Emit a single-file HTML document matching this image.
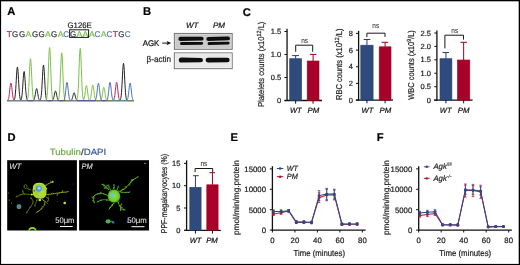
<!DOCTYPE html>
<html><head><meta charset="utf-8"><style>
html,body{margin:0;padding:0;background:#fff;}
svg{display:block;font-family:"Liberation Sans", sans-serif;will-change:transform;text-rendering:geometricPrecision;}
</style></head><body>
<svg width="520" height="265" viewBox="0 0 520 265">
<rect width="520" height="265" fill="#fff"/>
<text x="7.3" y="15.0" font-size="11.2" text-anchor="start" font-weight="bold" font-style="normal" fill="#000"  stroke="#000" stroke-width="0.2">A</text>
<text x="143.0" y="15.0" font-size="11.2" text-anchor="start" font-weight="bold" font-style="normal" fill="#000"  stroke="#000" stroke-width="0.2">B</text>
<text x="242.8" y="15.8" font-size="11.2" text-anchor="start" font-weight="bold" font-style="normal" fill="#000"  stroke="#000" stroke-width="0.2">C</text>
<text x="7.4" y="140.5" font-size="11.2" text-anchor="start" font-weight="bold" font-style="normal" fill="#000"  stroke="#000" stroke-width="0.2">D</text>
<text x="230.6" y="141.3" font-size="11.2" text-anchor="start" font-weight="bold" font-style="normal" fill="#000"  stroke="#000" stroke-width="0.2">E</text>
<text x="376.8" y="140.5" font-size="11.2" text-anchor="start" font-weight="bold" font-style="normal" fill="#000"  stroke="#000" stroke-width="0.2">F</text>
<text x="6.7" y="36.9" font-size="8.3" text-anchor="start" font-weight="normal" font-style="normal" fill="#c8294f" textLength="5.2" lengthAdjust="spacingAndGlyphs" stroke="#c8294f" stroke-width="0.2">T</text>
<text x="12.0" y="36.9" font-size="8.3" text-anchor="start" font-weight="normal" font-style="normal" fill="#333333" textLength="6.2" lengthAdjust="spacingAndGlyphs" stroke="#333333" stroke-width="0.2">G</text>
<text x="18.9" y="36.9" font-size="8.3" text-anchor="start" font-weight="normal" font-style="normal" fill="#333333" textLength="6.2" lengthAdjust="spacingAndGlyphs" stroke="#333333" stroke-width="0.2">G</text>
<text x="25.5" y="36.9" font-size="8.3" text-anchor="start" font-weight="normal" font-style="normal" fill="#72bb45" textLength="5.8" lengthAdjust="spacingAndGlyphs" stroke="#72bb45" stroke-width="0.2">A</text>
<text x="31.9" y="36.9" font-size="8.3" text-anchor="start" font-weight="normal" font-style="normal" fill="#333333" textLength="6.2" lengthAdjust="spacingAndGlyphs" stroke="#333333" stroke-width="0.2">G</text>
<text x="38.6" y="36.9" font-size="8.3" text-anchor="start" font-weight="normal" font-style="normal" fill="#333333" textLength="6.2" lengthAdjust="spacingAndGlyphs" stroke="#333333" stroke-width="0.2">G</text>
<text x="45.1" y="36.9" font-size="8.3" text-anchor="start" font-weight="normal" font-style="normal" fill="#72bb45" textLength="5.8" lengthAdjust="spacingAndGlyphs" stroke="#72bb45" stroke-width="0.2">A</text>
<text x="51.0" y="36.9" font-size="8.3" text-anchor="start" font-weight="normal" font-style="normal" fill="#333333" textLength="6.2" lengthAdjust="spacingAndGlyphs" stroke="#333333" stroke-width="0.2">G</text>
<text x="57.7" y="36.9" font-size="8.3" text-anchor="start" font-weight="normal" font-style="normal" fill="#72bb45" textLength="5.8" lengthAdjust="spacingAndGlyphs" stroke="#72bb45" stroke-width="0.2">A</text>
<text x="63.2" y="36.9" font-size="8.3" text-anchor="start" font-weight="normal" font-style="normal" fill="#5577b3" textLength="5.8" lengthAdjust="spacingAndGlyphs" stroke="#5577b3" stroke-width="0.2">C</text>
<text x="70.0" y="36.9" font-size="8.3" text-anchor="start" font-weight="normal" font-style="normal" fill="#333333" textLength="6.2" lengthAdjust="spacingAndGlyphs" stroke="#333333" stroke-width="0.2">G</text>
<text x="76.5" y="36.9" font-size="8.3" text-anchor="start" font-weight="normal" font-style="normal" fill="#72bb45" textLength="5.8" lengthAdjust="spacingAndGlyphs" stroke="#72bb45" stroke-width="0.2">A</text>
<text x="82.4" y="36.9" font-size="8.3" text-anchor="start" font-weight="normal" font-style="normal" fill="#72bb45" textLength="5.8" lengthAdjust="spacingAndGlyphs" stroke="#72bb45" stroke-width="0.2">A</text>
<text x="89.1" y="36.9" font-size="8.3" text-anchor="start" font-weight="normal" font-style="normal" fill="#72bb45" textLength="5.8" lengthAdjust="spacingAndGlyphs" stroke="#72bb45" stroke-width="0.2">A</text>
<text x="94.6" y="36.9" font-size="8.3" text-anchor="start" font-weight="normal" font-style="normal" fill="#5577b3" textLength="5.8" lengthAdjust="spacingAndGlyphs" stroke="#5577b3" stroke-width="0.2">C</text>
<text x="100.7" y="36.9" font-size="8.3" text-anchor="start" font-weight="normal" font-style="normal" fill="#72bb45" textLength="5.8" lengthAdjust="spacingAndGlyphs" stroke="#72bb45" stroke-width="0.2">A</text>
<text x="106.6" y="36.9" font-size="8.3" text-anchor="start" font-weight="normal" font-style="normal" fill="#5577b3" textLength="5.8" lengthAdjust="spacingAndGlyphs" stroke="#5577b3" stroke-width="0.2">C</text>
<text x="112.8" y="36.9" font-size="8.3" text-anchor="start" font-weight="normal" font-style="normal" fill="#c8294f" textLength="5.2" lengthAdjust="spacingAndGlyphs" stroke="#c8294f" stroke-width="0.2">T</text>
<text x="118.3" y="36.9" font-size="8.3" text-anchor="start" font-weight="normal" font-style="normal" fill="#333333" textLength="6.2" lengthAdjust="spacingAndGlyphs" stroke="#333333" stroke-width="0.2">G</text>
<text x="124.8" y="36.9" font-size="8.3" text-anchor="start" font-weight="normal" font-style="normal" fill="#5577b3" textLength="5.8" lengthAdjust="spacingAndGlyphs" stroke="#5577b3" stroke-width="0.2">C</text>
<text x="67.5" y="27.8" font-size="8.0" text-anchor="start" font-weight="normal" font-style="normal" fill="#222" textLength="24.3" lengthAdjust="spacingAndGlyphs"  stroke="#222" stroke-width="0.2">G126E</text>
<rect x="69.6" y="29.8" width="19.0" height="7.6" fill="none" stroke="#1a1a1a" stroke-width="1.0"/>
<polyline points="7.00,100.64 7.25,100.59 7.50,100.48 7.75,100.28 8.00,99.96 8.25,99.46 8.50,98.69 8.75,97.62 9.00,96.18 9.25,94.38 9.50,92.26 9.75,89.96 10.00,87.67 10.25,85.61 10.50,84.04 10.75,83.15 11.00,83.07 11.25,83.80 11.50,85.25 11.75,87.23 12.00,89.50 12.25,91.81 12.50,93.98 12.75,95.85 13.00,97.36 13.25,98.51 13.50,99.33 13.75,99.88 14.00,100.23 14.25,100.45 14.50,100.57 14.75,100.63 15.00,100.67 15.25,100.69 15.50,100.69 15.75,100.70 16.00,100.70 16.25,100.70 16.50,100.70 16.75,100.70 17.00,100.70 17.25,100.70 17.50,100.70 17.75,100.70 18.00,100.70 18.25,100.70 18.50,100.70 18.75,100.70 19.00,100.70 19.25,100.70 19.50,100.70 19.75,100.70 20.00,100.70 20.25,100.70 20.50,100.70 20.75,100.70 21.00,100.70 21.25,100.70 21.50,100.70 21.75,100.70 22.00,100.70 22.25,100.70 22.50,100.70 22.75,100.70 23.00,100.70 23.25,100.70 23.50,100.70 23.75,100.70 24.00,100.70 24.25,100.70 24.50,100.70 24.75,100.70 25.00,100.70 25.25,100.70 25.50,100.70 25.75,100.70 26.00,100.70 26.25,100.70 26.50,100.70 26.75,100.70 27.00,100.70 27.25,100.70 27.50,100.70 27.75,100.70 28.00,100.70 28.25,100.70 28.50,100.70 28.75,100.70 29.00,100.70 29.25,100.70 29.50,100.70 29.75,100.70 30.00,100.70 30.25,100.70 30.50,100.70 30.75,100.70 31.00,100.70 31.25,100.70 31.50,100.70 31.75,100.70 32.00,100.70 32.25,100.70 32.50,100.70 32.75,100.70 33.00,100.70 33.25,100.70 33.50,100.70 33.75,100.70 34.00,100.70 34.25,100.70 34.50,100.70 34.75,100.70 35.00,100.70 35.25,100.70 35.50,100.70 35.75,100.70 36.00,100.70 36.25,100.70 36.50,100.70 36.75,100.70 37.00,100.70 37.25,100.70 37.50,100.70 37.75,100.70 38.00,100.70 38.25,100.70 38.50,100.70 38.75,100.70 39.00,100.70 39.25,100.70 39.50,100.70 39.75,100.70 40.00,100.70 40.25,100.70 40.50,100.70 40.75,100.70 41.00,100.70 41.25,100.70 41.50,100.70 41.75,100.70 42.00,100.70 42.25,100.70 42.50,100.70 42.75,100.70 43.00,100.70 43.25,100.70 43.50,100.70 43.75,100.70 44.00,100.70 44.25,100.70 44.50,100.70 44.75,100.70 45.00,100.70 45.25,100.70 45.50,100.70 45.75,100.70 46.00,100.70 46.25,100.70 46.50,100.70 46.75,100.70 47.00,100.70 47.25,100.70 47.50,100.70 47.75,100.70 48.00,100.70 48.25,100.70 48.50,100.70 48.75,100.70 49.00,100.70 49.25,100.70 49.50,100.70 49.75,100.70 50.00,100.70 50.25,100.70 50.50,100.70 50.75,100.70 51.00,100.70 51.25,100.70 51.50,100.70 51.75,100.70 52.00,100.70 52.25,100.70 52.50,100.70 52.75,100.70 53.00,100.70 53.25,100.70 53.50,100.70 53.75,100.70 54.00,100.70 54.25,100.70 54.50,100.70 54.75,100.70 55.00,100.70 55.25,100.70 55.50,100.70 55.75,100.70 56.00,100.70 56.25,100.70 56.50,100.70 56.75,100.70 57.00,100.70 57.25,100.70 57.50,100.70 57.75,100.70 58.00,100.70 58.25,100.70 58.50,100.70 58.75,100.70 59.00,100.70 59.25,100.70 59.50,100.70 59.75,100.70 60.00,100.70 60.25,100.70 60.50,100.70 60.75,100.70 61.00,100.70 61.25,100.70 61.50,100.70 61.75,100.70 62.00,100.70 62.25,100.70 62.50,100.70 62.75,100.70 63.00,100.70 63.25,100.70 63.50,100.70 63.75,100.70 64.00,100.70 64.25,100.70 64.50,100.70 64.75,100.70 65.00,100.70 65.25,100.70 65.50,100.70 65.75,100.70 66.00,100.70 66.25,100.70 66.50,100.70 66.75,100.70 67.00,100.70 67.25,100.70 67.50,100.70 67.75,100.70 68.00,100.70 68.25,100.70 68.50,100.70 68.75,100.70 69.00,100.70 69.25,100.70 69.50,100.70 69.75,100.70 70.00,100.70 70.25,100.70 70.50,100.70 70.75,100.70 71.00,100.70 71.25,100.70 71.50,100.70 71.75,100.70 72.00,100.70 72.25,100.70 72.50,100.70 72.75,100.70 73.00,100.70 73.25,100.70 73.50,100.70 73.75,100.70 74.00,100.70 74.25,100.70 74.50,100.70 74.75,100.70 75.00,100.70 75.25,100.70 75.50,100.70 75.75,100.70 76.00,100.70 76.25,100.70 76.50,100.70 76.75,100.70 77.00,100.70 77.25,100.70 77.50,100.70 77.75,100.70 78.00,100.70 78.25,100.70 78.50,100.70 78.75,100.70 79.00,100.70 79.25,100.70 79.50,100.70 79.75,100.70 80.00,100.70 80.25,100.70 80.50,100.70 80.75,100.70 81.00,100.70 81.25,100.70 81.50,100.70 81.75,100.70 82.00,100.70 82.25,100.70 82.50,100.70 82.75,100.70 83.00,100.70 83.25,100.70 83.50,100.70 83.75,100.70 84.00,100.70 84.25,100.70 84.50,100.70 84.75,100.70 85.00,100.70 85.25,100.70 85.50,100.70 85.75,100.70 86.00,100.70 86.25,100.70 86.50,100.70 86.75,100.70 87.00,100.70 87.25,100.70 87.50,100.70 87.75,100.70 88.00,100.70 88.25,100.70 88.50,100.70 88.75,100.70 89.00,100.70 89.25,100.70 89.50,100.70 89.75,100.70 90.00,100.70 90.25,100.70 90.50,100.70 90.75,100.70 91.00,100.70 91.25,100.70 91.50,100.70 91.75,100.70 92.00,100.70 92.25,100.70 92.50,100.70 92.75,100.70 93.00,100.70 93.25,100.70 93.50,100.70 93.75,100.70 94.00,100.70 94.25,100.70 94.50,100.70 94.75,100.70 95.00,100.70 95.25,100.70 95.50,100.70 95.75,100.70 96.00,100.70 96.25,100.70 96.50,100.70 96.75,100.70 97.00,100.70 97.25,100.70 97.50,100.70 97.75,100.70 98.00,100.70 98.25,100.70 98.50,100.70 98.75,100.70 99.00,100.70 99.25,100.70 99.50,100.70 99.75,100.70 100.00,100.70 100.25,100.70 100.50,100.70 100.75,100.70 101.00,100.70 101.25,100.70 101.50,100.70 101.75,100.70 102.00,100.70 102.25,100.70 102.50,100.70 102.75,100.70 103.00,100.70 103.25,100.70 103.50,100.70 103.75,100.70 104.00,100.70 104.25,100.70 104.50,100.70 104.75,100.70 105.00,100.70 105.25,100.70 105.50,100.70 105.75,100.70 106.00,100.70 106.25,100.70 106.50,100.70 106.75,100.70 107.00,100.70 107.25,100.70 107.50,100.70 107.75,100.70 108.00,100.70 108.25,100.70 108.50,100.70 108.75,100.70 109.00,100.70 109.25,100.70 109.50,100.70 109.75,100.70 110.00,100.70 110.25,100.70 110.50,100.70 110.75,100.70 111.00,100.70 111.25,100.70 111.50,100.70 111.75,100.70 112.00,100.69 112.25,100.69 112.50,100.67 112.75,100.63 113.00,100.56 113.25,100.44 113.50,100.21 113.75,99.85 114.00,99.27 114.25,98.42 114.50,97.23 114.75,95.65 115.00,93.71 115.25,91.46 115.50,89.05 115.75,86.70 116.00,84.64 116.25,83.13 116.50,82.37 116.75,82.46 117.00,83.38 117.25,85.02 117.50,87.15 117.75,89.54 118.00,91.93 118.25,94.13 118.50,96.00 118.75,97.49 119.00,98.62 119.25,99.41 119.50,99.93 119.75,100.27 120.00,100.47 120.25,100.58 120.50,100.64 120.75,100.67 121.00,100.69 121.25,100.69 121.50,100.70 121.75,100.70 122.00,100.70 122.25,100.70 122.50,100.70 122.75,100.70 123.00,100.70 123.25,100.70 123.50,100.70 123.75,100.70 124.00,100.70 124.25,100.70 124.50,100.70 124.75,100.70 125.00,100.70 125.25,100.70 125.50,100.70 125.75,100.70 126.00,100.70 126.25,100.70 126.50,100.70 126.75,100.70 127.00,100.70 127.25,100.70 127.50,100.70 127.75,100.70 128.00,100.70 128.25,100.70 128.50,100.70 128.75,100.70 129.00,100.70 129.25,100.70 129.50,100.70 129.75,100.70 130.00,100.70 130.25,100.70 130.50,100.70 130.75,100.70 131.00,100.70 131.25,100.70 131.50,100.70 131.75,100.70 132.00,100.70 132.25,100.70 132.50,100.70 132.75,100.70 133.00,100.70 133.25,100.70 133.50,100.70 133.75,100.70 134.00,100.70" fill="none" stroke="#c3244f" stroke-width="1.0" stroke-linejoin="round"/>
<polyline points="7.00,100.70 7.25,100.70 7.50,100.70 7.75,100.70 8.00,100.70 8.25,100.70 8.50,100.70 8.75,100.70 9.00,100.70 9.25,100.70 9.50,100.70 9.75,100.70 10.00,100.70 10.25,100.70 10.50,100.70 10.75,100.70 11.00,100.70 11.25,100.70 11.50,100.70 11.75,100.70 12.00,100.70 12.25,100.70 12.50,100.70 12.75,100.69 13.00,100.68 13.25,100.65 13.50,100.59 13.75,100.48 14.00,100.27 14.25,99.91 14.50,99.30 14.75,98.33 15.00,96.88 15.25,94.83 15.50,92.09 15.75,88.66 16.00,84.64 16.25,80.26 16.50,75.89 16.75,71.98 17.00,68.98 17.25,67.29 17.50,67.13 17.75,68.53 18.00,71.29 18.25,75.06 18.50,79.37 18.75,83.78 19.00,87.90 19.25,91.46 19.50,94.34 19.75,96.52 20.00,98.08 20.25,99.14 20.50,99.81 20.75,100.22 21.00,99.93 21.25,99.34 21.50,98.43 21.75,97.07 22.00,95.17 22.25,92.67 22.50,89.57 22.75,85.99 23.00,82.16 23.25,78.40 23.50,75.13 23.75,72.73 24.00,71.51 24.25,71.65 24.50,73.12 24.75,75.73 25.00,79.13 25.25,82.93 25.50,86.73 25.75,90.23 26.00,93.22 26.25,95.60 26.50,97.38 26.75,98.64 27.00,99.48 27.25,100.01 27.50,100.33 27.75,100.51 28.00,100.61 28.25,100.66 28.50,100.68 28.75,100.69 29.00,100.70 29.25,100.70 29.50,100.70 29.75,100.70 30.00,100.70 30.25,100.70 30.50,100.70 30.75,100.70 31.00,100.70 31.25,100.70 31.50,100.70 31.75,100.70 32.00,100.70 32.25,100.69 32.50,100.68 32.75,100.66 33.00,100.61 33.25,100.53 33.50,100.38 33.75,100.14 34.00,99.76 34.25,99.20 34.50,98.42 34.75,97.38 35.00,96.10 35.25,94.63 35.50,93.04 35.75,91.49 36.00,90.14 36.25,89.15 36.50,88.65 36.75,88.70 37.00,89.31 37.25,90.39 37.50,91.79 37.75,93.36 38.00,94.93 38.25,96.38 38.50,97.61 38.75,98.59 39.00,99.33 39.25,99.85 39.50,100.20 39.75,100.42 40.00,100.35 40.25,100.04 40.50,99.51 40.75,98.65 41.00,97.34 41.25,95.43 41.50,92.83 41.75,89.48 42.00,85.45 42.25,80.93 42.50,76.24 42.75,71.84 43.00,68.22 43.25,65.83 43.50,65.00 43.75,65.83 44.00,68.22 44.25,71.84 44.50,76.24 44.75,80.93 45.00,85.45 45.25,89.48 45.50,92.83 45.75,95.43 46.00,97.34 46.25,98.65 46.50,99.51 46.75,100.04 47.00,100.35 47.25,100.52 47.50,100.62 47.75,100.66 48.00,100.68 48.25,100.69 48.50,100.70 48.75,100.70 49.00,100.70 49.25,100.70 49.50,100.70 49.75,100.70 50.00,100.70 50.25,100.70 50.50,100.70 50.75,100.70 51.00,100.70 51.25,100.69 51.50,100.68 51.75,100.65 52.00,100.61 52.25,100.52 52.50,100.38 52.75,100.14 53.00,99.79 53.25,99.27 53.50,98.56 53.75,97.65 54.00,96.56 54.25,95.33 54.50,94.05 54.75,92.86 55.00,91.87 55.25,91.23 55.50,91.00 55.75,91.23 56.00,91.87 56.25,92.86 56.50,94.05 56.75,95.33 57.00,96.56 57.25,97.65 57.50,98.56 57.75,99.27 58.00,99.79 58.25,100.14 58.50,100.38 58.75,100.52 59.00,100.61 59.25,100.65 59.50,100.68 59.75,100.69 60.00,100.70 60.25,100.70 60.50,100.70 60.75,100.70 61.00,100.70 61.25,100.70 61.50,100.70 61.75,100.70 62.00,100.70 62.25,100.70 62.50,100.70 62.75,100.70 63.00,100.70 63.25,100.70 63.50,100.70 63.75,100.70 64.00,100.70 64.25,100.70 64.50,100.70 64.75,100.70 65.00,100.70 65.25,100.70 65.50,100.70 65.75,100.70 66.00,100.70 66.25,100.70 66.50,100.70 66.75,100.70 67.00,100.70 67.25,100.70 67.50,100.70 67.75,100.70 68.00,100.70 68.25,100.70 68.50,100.70 68.75,100.70 69.00,100.70 69.25,100.70 69.50,100.70 69.75,100.69 70.00,100.69 70.25,100.67 70.50,100.64 70.75,100.59 71.00,100.49 71.25,100.33 71.50,100.09 71.75,99.72 72.00,99.21 72.25,98.53 72.50,97.70 72.75,96.73 73.00,95.70 73.25,94.69 73.50,93.81 73.75,93.16 74.00,92.83 74.25,92.87 74.50,93.26 74.75,93.97 75.00,94.88 75.25,95.91 75.50,96.93 75.75,97.88 76.00,98.68 76.25,99.32 76.50,99.80 76.75,100.14 77.00,100.37 77.25,100.51 77.50,100.60 77.75,100.65 78.00,100.67 78.25,100.69 78.50,100.69 78.75,100.70 79.00,100.70 79.25,100.70 79.50,100.70 79.75,100.70 80.00,100.70 80.25,100.70 80.50,100.70 80.75,100.70 81.00,100.70 81.25,100.70 81.50,100.70 81.75,100.70 82.00,100.70 82.25,100.70 82.50,100.70 82.75,100.70 83.00,100.70 83.25,100.70 83.50,100.70 83.75,100.70 84.00,100.70 84.25,100.70 84.50,100.70 84.75,100.70 85.00,100.70 85.25,100.70 85.50,100.70 85.75,100.70 86.00,100.70 86.25,100.70 86.50,100.70 86.75,100.70 87.00,100.70 87.25,100.70 87.50,100.70 87.75,100.70 88.00,100.70 88.25,100.70 88.50,100.70 88.75,100.70 89.00,100.70 89.25,100.70 89.50,100.70 89.75,100.70 90.00,100.70 90.25,100.70 90.50,100.70 90.75,100.70 91.00,100.70 91.25,100.70 91.50,100.70 91.75,100.70 92.00,100.70 92.25,100.70 92.50,100.70 92.75,100.70 93.00,100.70 93.25,100.70 93.50,100.70 93.75,100.70 94.00,100.70 94.25,100.70 94.50,100.70 94.75,100.70 95.00,100.70 95.25,100.70 95.50,100.70 95.75,100.70 96.00,100.70 96.25,100.70 96.50,100.70 96.75,100.70 97.00,100.70 97.25,100.70 97.50,100.70 97.75,100.70 98.00,100.70 98.25,100.70 98.50,100.70 98.75,100.70 99.00,100.70 99.25,100.70 99.50,100.70 99.75,100.70 100.00,100.70 100.25,100.70 100.50,100.70 100.75,100.70 101.00,100.70 101.25,100.70 101.50,100.70 101.75,100.70 102.00,100.70 102.25,100.70 102.50,100.70 102.75,100.70 103.00,100.70 103.25,100.70 103.50,100.70 103.75,100.70 104.00,100.70 104.25,100.70 104.50,100.70 104.75,100.70 105.00,100.70 105.25,100.70 105.50,100.70 105.75,100.70 106.00,100.70 106.25,100.70 106.50,100.70 106.75,100.70 107.00,100.70 107.25,100.70 107.50,100.70 107.75,100.70 108.00,100.70 108.25,100.70 108.50,100.70 108.75,100.70 109.00,100.70 109.25,100.70 109.50,100.70 109.75,100.70 110.00,100.70 110.25,100.70 110.50,100.70 110.75,100.70 111.00,100.70 111.25,100.70 111.50,100.70 111.75,100.70 112.00,100.70 112.25,100.70 112.50,100.70 112.75,100.70 113.00,100.70 113.25,100.70 113.50,100.70 113.75,100.70 114.00,100.70 114.25,100.70 114.50,100.70 114.75,100.70 115.00,100.70 115.25,100.70 115.50,100.70 115.75,100.70 116.00,100.70 116.25,100.70 116.50,100.70 116.75,100.70 117.00,100.70 117.25,100.70 117.50,100.70 117.75,100.70 118.00,100.70 118.25,100.70 118.50,100.70 118.75,100.69 119.00,100.68 119.25,100.66 119.50,100.61 119.75,100.52 120.00,100.34 120.25,100.01 120.50,99.46 120.75,98.56 121.00,97.18 121.25,95.18 121.50,92.46 121.75,88.95 122.00,84.73 122.25,79.98 122.50,75.07 122.75,70.46 123.00,66.67 123.25,64.17 123.50,63.30 123.75,64.17 124.00,66.67 124.25,70.46 124.50,75.07 124.75,79.98 125.00,84.73 125.25,88.95 125.50,92.46 125.75,95.18 126.00,97.18 126.25,98.56 126.50,99.46 126.75,100.01 127.00,100.34 127.25,100.52 127.50,100.61 127.75,100.66 128.00,100.68 128.25,100.69 128.50,100.70 128.75,100.70 129.00,100.70 129.25,100.70 129.50,100.70 129.75,100.70 130.00,100.70 130.25,100.70 130.50,100.70 130.75,100.70 131.00,100.70 131.25,100.70 131.50,100.70 131.75,100.70 132.00,100.70 132.25,100.70 132.50,100.70 132.75,100.70 133.00,100.70 133.25,100.70 133.50,100.70 133.75,100.70 134.00,100.70" fill="none" stroke="#222222" stroke-width="1.0" stroke-linejoin="round"/>
<polyline points="7.00,100.70 7.25,100.70 7.50,100.70 7.75,100.70 8.00,100.70 8.25,100.70 8.50,100.70 8.75,100.70 9.00,100.70 9.25,100.70 9.50,100.70 9.75,100.70 10.00,100.70 10.25,100.70 10.50,100.70 10.75,100.70 11.00,100.70 11.25,100.70 11.50,100.70 11.75,100.70 12.00,100.70 12.25,100.70 12.50,100.70 12.75,100.70 13.00,100.70 13.25,100.70 13.50,100.70 13.75,100.70 14.00,100.70 14.25,100.70 14.50,100.70 14.75,100.70 15.00,100.70 15.25,100.70 15.50,100.70 15.75,100.70 16.00,100.70 16.25,100.70 16.50,100.70 16.75,100.70 17.00,100.70 17.25,100.70 17.50,100.70 17.75,100.70 18.00,100.70 18.25,100.70 18.50,100.70 18.75,100.70 19.00,100.70 19.25,100.70 19.50,100.70 19.75,100.70 20.00,100.70 20.25,100.70 20.50,100.70 20.75,100.70 21.00,100.70 21.25,100.70 21.50,100.70 21.75,100.70 22.00,100.70 22.25,100.70 22.50,100.70 22.75,100.70 23.00,100.70 23.25,100.70 23.50,100.70 23.75,100.70 24.00,100.70 24.25,100.70 24.50,100.70 24.75,100.70 25.00,100.70 25.25,100.70 25.50,100.70 25.75,100.69 26.00,100.68 26.25,100.65 26.50,100.60 26.75,100.49 27.00,100.29 27.25,99.93 27.50,99.30 27.75,98.29 28.00,96.75 28.25,94.51 28.50,91.44 28.75,87.51 29.00,82.76 29.25,77.44 29.50,71.92 29.75,66.75 30.00,62.49 30.25,59.68 30.50,58.70 30.75,59.68 31.00,62.49 31.25,66.75 31.50,71.92 31.75,77.44 32.00,82.76 32.25,87.51 32.50,91.44 32.75,94.51 33.00,96.75 33.25,98.29 33.50,99.30 33.75,99.93 34.00,100.29 34.25,100.49 34.50,100.60 34.75,100.65 35.00,100.68 35.25,100.69 35.50,100.70 35.75,100.70 36.00,100.70 36.25,100.70 36.50,100.70 36.75,100.70 37.00,100.70 37.25,100.70 37.50,100.70 37.75,100.70 38.00,100.70 38.25,100.70 38.50,100.70 38.75,100.70 39.00,100.70 39.25,100.70 39.50,100.70 39.75,100.70 40.00,100.70 40.25,100.70 40.50,100.70 40.75,100.70 41.00,100.70 41.25,100.70 41.50,100.70 41.75,100.70 42.00,100.70 42.25,100.70 42.50,100.70 42.75,100.70 43.00,100.70 43.25,100.70 43.50,100.70 43.75,100.70 44.00,100.70 44.25,100.70 44.50,100.70 44.75,100.69 45.00,100.68 45.25,100.66 45.50,100.61 45.75,100.50 46.00,100.30 46.25,99.93 46.50,99.29 46.75,98.23 47.00,96.56 47.25,94.09 47.50,90.64 47.75,86.09 48.00,80.45 48.25,73.94 48.50,66.97 48.75,60.14 49.00,54.18 49.25,49.81 49.50,47.60 49.75,47.85 50.00,50.53 50.25,55.27 50.50,61.46 50.75,68.37 51.00,75.30 51.25,81.66 51.50,87.09 51.75,91.42 52.00,94.66 52.25,96.95 52.50,98.48 52.75,99.45 53.00,100.03 53.25,100.35 53.50,100.53 53.75,100.62 54.00,100.66 54.25,100.68 54.50,100.69 54.75,100.70 55.00,100.70 55.25,100.70 55.50,100.70 55.75,100.70 56.00,100.70 56.25,100.70 56.50,100.70 56.75,100.70 57.00,100.69 57.25,100.67 57.50,100.64 57.75,100.57 58.00,100.43 58.25,100.17 58.50,99.70 58.75,98.92 59.00,97.66 59.25,95.75 59.50,93.02 59.75,89.32 60.00,84.64 60.25,79.07 60.50,72.91 60.75,66.65 61.00,60.90 61.25,56.33 61.50,53.52 61.75,52.85 62.00,54.40 62.25,57.98 62.50,63.09 62.75,69.13 63.00,75.42 63.25,81.39 63.50,86.63 63.75,90.92 64.00,94.22 64.25,96.60 64.50,98.23 64.75,99.28 65.00,99.92 65.25,100.29 65.50,100.50 65.75,100.60 66.00,100.66 66.25,100.68 66.50,100.69 66.75,100.70 67.00,100.70 67.25,100.70 67.50,100.70 67.75,100.70 68.00,100.70 68.25,100.70 68.50,100.70 68.75,100.70 69.00,100.70 69.25,100.70 69.50,100.70 69.75,100.70 70.00,100.70 70.25,100.70 70.50,100.70 70.75,100.70 71.00,100.70 71.25,100.70 71.50,100.70 71.75,100.70 72.00,100.70 72.25,100.70 72.50,100.70 72.75,100.70 73.00,100.70 73.25,100.70 73.50,100.70 73.75,100.70 74.00,100.70 74.25,100.70 74.50,100.70 74.75,100.70 75.00,100.70 75.25,100.70 75.50,100.69 75.75,100.67 76.00,100.63 76.25,100.56 76.50,100.40 76.75,100.12 77.00,99.61 77.25,98.75 77.50,97.38 77.75,95.29 78.00,92.31 78.25,88.28 78.50,83.16 78.75,77.08 79.00,70.36 79.25,63.52 79.50,57.24 79.75,52.25 80.00,49.18 80.25,48.45 80.50,50.15 80.75,54.05 81.00,59.64 81.25,66.23 81.50,73.09 81.75,79.61 82.00,85.34 82.25,90.02 82.50,93.62 82.75,96.22 83.00,98.00 83.25,99.15 83.50,99.85 83.75,99.63 84.00,98.98 84.25,98.05 84.50,96.82 84.75,95.27 85.00,93.46 85.25,91.48 85.50,89.51 85.75,87.74 86.00,86.39 86.25,85.63 86.50,85.56 86.75,86.19 87.00,87.43 87.25,89.13 87.50,91.08 87.75,93.07 88.00,94.93 88.25,96.53 88.50,97.83 88.75,98.82 89.00,99.52 89.25,100.00 89.50,100.30 89.75,100.23 90.00,99.89 90.25,99.36 90.50,98.58 90.75,97.49 91.00,96.09 91.25,94.37 91.50,92.41 91.75,90.35 92.00,88.37 92.25,86.70 92.50,85.53 92.75,85.01 93.00,85.24 93.25,86.16 93.50,87.65 93.75,89.54 94.00,91.59 94.25,93.61 94.50,95.44 94.75,96.97 95.00,98.18 95.25,99.08 95.50,99.70 95.75,100.12 96.00,100.37 96.25,100.53 96.50,100.61 96.75,100.66 97.00,100.68 97.25,100.69 97.50,100.70 97.75,100.70 98.00,100.70 98.25,100.70 98.50,100.70 98.75,100.70 99.00,100.70 99.25,100.69 99.50,100.69 99.75,100.67 100.00,100.64 100.25,100.58 100.50,100.48 100.75,100.30 101.00,100.00 101.25,99.54 101.50,98.87 101.75,97.94 102.00,96.73 102.25,95.26 102.50,93.57 102.75,91.80 103.00,90.10 103.25,88.66 103.50,87.65 103.75,87.21 104.00,87.40 104.25,88.19 104.50,89.48 104.75,91.10 105.00,92.87 105.25,94.60 105.50,96.17 105.75,97.49 106.00,98.53 106.25,99.30 106.50,99.84 106.75,100.20 107.00,100.42 107.25,100.55 107.50,100.62 107.75,100.66 108.00,100.68 108.25,100.69 108.50,100.70 108.75,100.70 109.00,100.70 109.25,100.70 109.50,100.70 109.75,100.70 110.00,100.70 110.25,100.70 110.50,100.70 110.75,100.70 111.00,100.70 111.25,100.70 111.50,100.70 111.75,100.70 112.00,100.70 112.25,100.70 112.50,100.70 112.75,100.70 113.00,100.70 113.25,100.70 113.50,100.70 113.75,100.70 114.00,100.70 114.25,100.70 114.50,100.70 114.75,100.70 115.00,100.70 115.25,100.70 115.50,100.70 115.75,100.70 116.00,100.70 116.25,100.70 116.50,100.70 116.75,100.70 117.00,100.70 117.25,100.70 117.50,100.70 117.75,100.70 118.00,100.70 118.25,100.70 118.50,100.70 118.75,100.70 119.00,100.70 119.25,100.70 119.50,100.70 119.75,100.70 120.00,100.70 120.25,100.70 120.50,100.70 120.75,100.70 121.00,100.70 121.25,100.70 121.50,100.70 121.75,100.70 122.00,100.70 122.25,100.70 122.50,100.70 122.75,100.70 123.00,100.70 123.25,100.70 123.50,100.70 123.75,100.70 124.00,100.70 124.25,100.70 124.50,100.70 124.75,100.70 125.00,100.70 125.25,100.70 125.50,100.70 125.75,100.70 126.00,100.70 126.25,100.70 126.50,100.70 126.75,100.70 127.00,100.70 127.25,100.70 127.50,100.70 127.75,100.70 128.00,100.70 128.25,100.70 128.50,100.70 128.75,100.70 129.00,100.70 129.25,100.70 129.50,100.70 129.75,100.70 130.00,100.70 130.25,100.70 130.50,100.70 130.75,100.70 131.00,100.70 131.25,100.70 131.50,100.70 131.75,100.70 132.00,100.70 132.25,100.70 132.50,100.70 132.75,100.70 133.00,100.70 133.25,100.70 133.50,100.70 133.75,100.70 134.00,100.70" fill="none" stroke="#7cc04a" stroke-width="1.0" stroke-linejoin="round"/>
<polyline points="7.00,100.70 7.25,100.70 7.50,100.70 7.75,100.70 8.00,100.70 8.25,100.70 8.50,100.70 8.75,100.70 9.00,100.70 9.25,100.70 9.50,100.70 9.75,100.70 10.00,100.70 10.25,100.70 10.50,100.70 10.75,100.70 11.00,100.70 11.25,100.70 11.50,100.70 11.75,100.70 12.00,100.70 12.25,100.70 12.50,100.70 12.75,100.70 13.00,100.70 13.25,100.70 13.50,100.70 13.75,100.70 14.00,100.70 14.25,100.70 14.50,100.70 14.75,100.70 15.00,100.70 15.25,100.70 15.50,100.70 15.75,100.70 16.00,100.70 16.25,100.70 16.50,100.70 16.75,100.70 17.00,100.70 17.25,100.70 17.50,100.70 17.75,100.70 18.00,100.70 18.25,100.70 18.50,100.70 18.75,100.70 19.00,100.70 19.25,100.70 19.50,100.70 19.75,100.70 20.00,100.70 20.25,100.70 20.50,100.70 20.75,100.70 21.00,100.70 21.25,100.70 21.50,100.70 21.75,100.70 22.00,100.70 22.25,100.70 22.50,100.70 22.75,100.70 23.00,100.70 23.25,100.70 23.50,100.70 23.75,100.70 24.00,100.70 24.25,100.70 24.50,100.70 24.75,100.70 25.00,100.70 25.25,100.70 25.50,100.70 25.75,100.70 26.00,100.70 26.25,100.70 26.50,100.70 26.75,100.70 27.00,100.70 27.25,100.70 27.50,100.70 27.75,100.70 28.00,100.70 28.25,100.70 28.50,100.70 28.75,100.70 29.00,100.70 29.25,100.70 29.50,100.70 29.75,100.70 30.00,100.70 30.25,100.70 30.50,100.70 30.75,100.70 31.00,100.70 31.25,100.70 31.50,100.70 31.75,100.70 32.00,100.70 32.25,100.70 32.50,100.70 32.75,100.70 33.00,100.70 33.25,100.70 33.50,100.70 33.75,100.70 34.00,100.70 34.25,100.70 34.50,100.70 34.75,100.70 35.00,100.70 35.25,100.70 35.50,100.70 35.75,100.70 36.00,100.70 36.25,100.70 36.50,100.70 36.75,100.70 37.00,100.70 37.25,100.70 37.50,100.70 37.75,100.70 38.00,100.70 38.25,100.70 38.50,100.70 38.75,100.70 39.00,100.70 39.25,100.70 39.50,100.70 39.75,100.70 40.00,100.70 40.25,100.70 40.50,100.70 40.75,100.70 41.00,100.70 41.25,100.70 41.50,100.70 41.75,100.70 42.00,100.70 42.25,100.70 42.50,100.70 42.75,100.70 43.00,100.70 43.25,100.70 43.50,100.70 43.75,100.70 44.00,100.70 44.25,100.70 44.50,100.70 44.75,100.70 45.00,100.70 45.25,100.70 45.50,100.70 45.75,100.70 46.00,100.70 46.25,100.70 46.50,100.70 46.75,100.70 47.00,100.70 47.25,100.70 47.50,100.70 47.75,100.70 48.00,100.70 48.25,100.70 48.50,100.70 48.75,100.70 49.00,100.70 49.25,100.70 49.50,100.70 49.75,100.70 50.00,100.70 50.25,100.70 50.50,100.70 50.75,100.70 51.00,100.70 51.25,100.70 51.50,100.70 51.75,100.70 52.00,100.70 52.25,100.70 52.50,100.70 52.75,100.70 53.00,100.70 53.25,100.70 53.50,100.70 53.75,100.70 54.00,100.70 54.25,100.70 54.50,100.70 54.75,100.70 55.00,100.70 55.25,100.70 55.50,100.70 55.75,100.70 56.00,100.70 56.25,100.70 56.50,100.70 56.75,100.70 57.00,100.70 57.25,100.70 57.50,100.70 57.75,100.70 58.00,100.70 58.25,100.70 58.50,100.70 58.75,100.70 59.00,100.70 59.25,100.70 59.50,100.70 59.75,100.70 60.00,100.70 60.25,100.70 60.50,100.70 60.75,100.70 61.00,100.70 61.25,100.70 61.50,100.70 61.75,100.70 62.00,100.70 62.25,100.70 62.50,100.69 62.75,100.68 63.00,100.66 63.25,100.61 63.50,100.52 63.75,100.36 64.00,100.09 64.25,99.65 64.50,98.97 64.75,97.99 65.00,96.64 65.25,94.92 65.50,92.84 65.75,90.51 66.00,88.09 66.25,85.82 66.50,83.96 66.75,82.73 67.00,82.30 67.25,82.73 67.50,83.96 67.75,85.82 68.00,88.09 68.25,90.51 68.50,92.84 68.75,94.92 69.00,96.64 69.25,97.99 69.50,98.97 69.75,99.65 70.00,100.09 70.25,100.36 70.50,100.52 70.75,100.61 71.00,100.66 71.25,100.68 71.50,100.69 71.75,100.70 72.00,100.70 72.25,100.70 72.50,100.70 72.75,100.70 73.00,100.70 73.25,100.70 73.50,100.70 73.75,100.70 74.00,100.70 74.25,100.70 74.50,100.70 74.75,100.70 75.00,100.70 75.25,100.70 75.50,100.70 75.75,100.70 76.00,100.70 76.25,100.70 76.50,100.70 76.75,100.70 77.00,100.70 77.25,100.70 77.50,100.70 77.75,100.70 78.00,100.70 78.25,100.70 78.50,100.70 78.75,100.70 79.00,100.70 79.25,100.70 79.50,100.70 79.75,100.70 80.00,100.70 80.25,100.70 80.50,100.70 80.75,100.70 81.00,100.70 81.25,100.70 81.50,100.70 81.75,100.70 82.00,100.70 82.25,100.70 82.50,100.70 82.75,100.70 83.00,100.70 83.25,100.70 83.50,100.70 83.75,100.70 84.00,100.70 84.25,100.70 84.50,100.70 84.75,100.70 85.00,100.70 85.25,100.70 85.50,100.70 85.75,100.70 86.00,100.70 86.25,100.70 86.50,100.70 86.75,100.70 87.00,100.70 87.25,100.70 87.50,100.70 87.75,100.70 88.00,100.70 88.25,100.70 88.50,100.70 88.75,100.70 89.00,100.70 89.25,100.70 89.50,100.70 89.75,100.70 90.00,100.70 90.25,100.70 90.50,100.70 90.75,100.70 91.00,100.70 91.25,100.70 91.50,100.70 91.75,100.70 92.00,100.70 92.25,100.70 92.50,100.70 92.75,100.70 93.00,100.70 93.25,100.70 93.50,100.70 93.75,100.70 94.00,100.69 94.25,100.67 94.50,100.64 94.75,100.59 95.00,100.48 95.25,100.29 95.50,99.97 95.75,99.47 96.00,98.72 96.25,97.65 96.50,96.23 96.75,94.45 97.00,92.36 97.25,90.09 97.50,87.82 97.75,85.78 98.00,84.23 98.25,83.35 98.50,83.27 98.75,83.99 99.00,85.43 99.25,87.38 99.50,89.62 99.75,91.91 100.00,94.05 100.25,95.90 100.50,97.40 100.75,98.53 101.00,99.34 101.25,99.89 101.50,100.24 101.75,100.45 102.00,100.57 102.25,100.64 102.50,100.67 102.75,100.69 103.00,100.69 103.25,100.70 103.50,100.70 103.75,100.70 104.00,100.70 104.25,100.70 104.50,100.70 104.75,100.70 105.00,100.70 105.25,100.70 105.50,100.69 105.75,100.68 106.00,100.66 106.25,100.61 106.50,100.52 106.75,100.36 107.00,100.09 107.25,99.65 107.50,98.97 107.75,97.99 108.00,96.64 108.25,94.92 108.50,92.84 108.75,90.51 109.00,88.09 109.25,85.82 109.50,83.96 109.75,82.73 110.00,82.30 110.25,82.73 110.50,83.96 110.75,85.82 111.00,88.09 111.25,90.51 111.50,92.84 111.75,94.92 112.00,96.64 112.25,97.99 112.50,98.97 112.75,99.65 113.00,100.09 113.25,100.36 113.50,100.52 113.75,100.61 114.00,100.66 114.25,100.68 114.50,100.69 114.75,100.70 115.00,100.70 115.25,100.70 115.50,100.70 115.75,100.70 116.00,100.70 116.25,100.70 116.50,100.70 116.75,100.70 117.00,100.70 117.25,100.70 117.50,100.70 117.75,100.70 118.00,100.70 118.25,100.70 118.50,100.70 118.75,100.70 119.00,100.70 119.25,100.70 119.50,100.70 119.75,100.70 120.00,100.70 120.25,100.70 120.50,100.70 120.75,100.70 121.00,100.70 121.25,100.70 121.50,100.70 121.75,100.70 122.00,100.70 122.25,100.70 122.50,100.70 122.75,100.70 123.00,100.70 123.25,100.70 123.50,100.70 123.75,100.70 124.00,100.70 124.25,100.70 124.50,100.70 124.75,100.70 125.00,100.70 125.25,100.70 125.50,100.69 125.75,100.69 126.00,100.67 126.25,100.63 126.50,100.57 126.75,100.45 127.00,100.23 127.25,99.88 127.50,99.33 127.75,98.51 128.00,97.36 128.25,95.85 128.50,93.98 128.75,91.81 129.00,89.50 129.25,87.23 129.50,85.25 129.75,83.80 130.00,83.07 130.25,83.15 130.50,84.04 130.75,85.61 131.00,87.67 131.25,89.96 131.50,92.26 131.75,94.38 132.00,96.18 132.25,97.62 132.50,98.69 132.75,99.46 133.00,99.96 133.25,100.28 133.50,100.48 133.75,100.59 134.00,100.64" fill="none" stroke="#4d72b5" stroke-width="1.0" stroke-linejoin="round"/>
<text x="186.0" y="28.0" font-size="8.0" text-anchor="start" font-weight="normal" font-style="italic" fill="#111" textLength="12.4" lengthAdjust="spacingAndGlyphs"  stroke="#111" stroke-width="0.2">WT</text>
<text x="212.9" y="28.0" font-size="8.0" text-anchor="start" font-weight="normal" font-style="italic" fill="#111" textLength="12.1" lengthAdjust="spacingAndGlyphs"  stroke="#111" stroke-width="0.2">PM</text>
<text x="142.7" y="45.5" font-size="8.2" text-anchor="start" font-weight="normal" font-style="normal" fill="#111" textLength="16.6" lengthAdjust="spacingAndGlyphs"  stroke="#111" stroke-width="0.2">AGK</text>
<line x1="162.3" y1="43.1" x2="168.5" y2="43.1" stroke="#111" stroke-width="1.0"/>
<path d="M166.6,40.9 L171.2,43.1 L166.6,45.3 L167.6,43.1 Z" fill="#111"/>
<text x="146.6" y="62.2" font-size="8.6" text-anchor="start" font-weight="normal" font-style="normal" fill="#222" textLength="24.5" lengthAdjust="spacingAndGlyphs"  stroke="#222" stroke-width="0.2">β-actin</text>
<defs><linearGradient id="g1" x1="0" y1="0" x2="0" y2="1"><stop offset="0" stop-color="#c9c9c9"/><stop offset="1" stop-color="#bdbdbd"/></linearGradient><filter id="bl" x="-20%" y="-50%" width="140%" height="200%"><feGaussianBlur stdDeviation="0.45"/></filter><filter id="bl2" x="-50%" y="-50%" width="200%" height="200%"><feGaussianBlur stdDeviation="0.6"/></filter></defs>
<rect x="174.3" y="33.4" width="57.9" height="15.9" fill="#c9c9c9" stroke="#6a6a6a" stroke-width="0.9"/>
<rect x="175.4" y="34.5" width="55.7" height="13.7" fill="none" stroke="#d6d6d6" stroke-width="0.8"/>
<rect x="174.3" y="52.9" width="57.9" height="15.8" fill="#e8e8e8" stroke="#6a6a6a" stroke-width="0.9"/>
<rect x="175.4" y="54.0" width="55.7" height="13.6" fill="none" stroke="#f2f2f2" stroke-width="0.8"/>
<g filter="url(#bl)" fill="#0d0d0d">
<path d="M180.50,36.80 L201.70,36.80 A1.90,1.90 0 0 1 201.70,40.60 L180.50,41.00 A2.10,2.10 0 0 1 180.50,36.80 Z"/>
<path d="M208.30,37.10 L228.10,36.50 A1.90,1.90 0 0 1 228.10,40.30 L208.30,41.10 A2.00,2.00 0 0 1 208.30,37.10 Z"/>
<path d="M181.50,42.00 L201.80,41.90 A1.40,1.40 0 0 1 201.80,44.70 L181.50,45.00 A1.50,1.50 0 0 1 181.50,42.00 Z"/>
<path d="M209.10,42.10 L228.20,41.70 A1.40,1.40 0 0 1 228.20,44.50 L209.10,45.10 A1.50,1.50 0 0 1 209.10,42.10 Z"/>
<path d="M181.40,57.40 L200.80,57.90 A2.20,2.20 0 0 1 200.80,62.30 L181.40,62.60 A2.60,2.60 0 0 1 181.40,57.40 Z"/>
<path d="M208.00,57.70 L227.30,57.70 A2.30,2.30 0 0 1 227.30,62.30 L208.00,62.50 A2.40,2.40 0 0 1 208.00,57.70 Z"/>
</g>
<line x1="287.05" y1="28.8" x2="287.05" y2="101.1" stroke="#111" stroke-width="1.3"/>
<line x1="284.45" y1="31.5" x2="287.05" y2="31.5" stroke="#111" stroke-width="1.0"/>
<text x="281.2" y="34.1" font-size="7.5" text-anchor="end" font-weight="normal" font-style="normal" fill="#1a1a1a"  stroke="#1a1a1a" stroke-width="0.2">1.5</text>
<line x1="284.45" y1="54.5" x2="287.05" y2="54.5" stroke="#111" stroke-width="1.0"/>
<text x="281.2" y="57.1" font-size="7.5" text-anchor="end" font-weight="normal" font-style="normal" fill="#1a1a1a"  stroke="#1a1a1a" stroke-width="0.2">1.0</text>
<line x1="284.45" y1="77.5" x2="287.05" y2="77.5" stroke="#111" stroke-width="1.0"/>
<text x="281.2" y="80.1" font-size="7.5" text-anchor="end" font-weight="normal" font-style="normal" fill="#1a1a1a"  stroke="#1a1a1a" stroke-width="0.2">0.5</text>
<line x1="284.45" y1="100.5" x2="287.05" y2="100.5" stroke="#111" stroke-width="1.0"/>
<text x="281.2" y="103.1" font-size="7.5" text-anchor="end" font-weight="normal" font-style="normal" fill="#1a1a1a"  stroke="#1a1a1a" stroke-width="0.2">0</text>
<line x1="284.5" y1="100.5" x2="322.0" y2="100.5" stroke="#111" stroke-width="1.3"/>
<line x1="295.65" y1="55.6" x2="295.65" y2="58.7" stroke="#22407a" stroke-width="1.0"/>
<line x1="292.2" y1="55.6" x2="299.0" y2="55.6" stroke="#22407a" stroke-width="1.0"/>
<rect x="289.7" y="58.7" width="11.900000000000034" height="41.8" fill="#2f4a7d" stroke="#22407a" stroke-width="0.6"/>
<line x1="295.65" y1="100.5" x2="295.65" y2="103.7" stroke="#111" stroke-width="1.0"/>
<line x1="313.1" y1="54.4" x2="313.1" y2="61.0" stroke="#a0001f" stroke-width="1.0"/>
<line x1="310.0" y1="54.4" x2="316.4" y2="54.4" stroke="#a0001f" stroke-width="1.0"/>
<rect x="307.2" y="61.0" width="11.800000000000011" height="39.5" fill="#a8022b" stroke="#a0001f" stroke-width="0.6"/>
<line x1="313.1" y1="100.5" x2="313.1" y2="103.7" stroke="#111" stroke-width="1.0"/>
<path d="M295.7,51.8 L295.7,45.2 L312.7,45.2 L312.7,51.8" fill="none" stroke="#1a1a1a" stroke-width="1.0"/>
<text x="301.15000000000003" y="42.599999999999994" font-size="7.4" text-anchor="start" font-weight="normal" font-style="normal" fill="#2a2a2a" textLength="6.9" lengthAdjust="spacingAndGlyphs"  stroke="#2a2a2a" stroke-width="0.05">ns</text>
<text x="295.85" y="113.1" font-size="7.6" text-anchor="middle" font-weight="normal" font-style="italic" fill="#111" textLength="11.7" lengthAdjust="spacingAndGlyphs"  stroke="#111" stroke-width="0.2">WT</text>
<text x="313.45" y="113.1" font-size="7.6" text-anchor="middle" font-weight="normal" font-style="italic" fill="#111" textLength="11.7" lengthAdjust="spacingAndGlyphs"  stroke="#111" stroke-width="0.2">PM</text>
<text transform="translate(263.6,64.3) rotate(-90)" x="0" y="0" font-size="8.5" text-anchor="middle" fill="#1a1a1a" stroke="#1a1a1a" stroke-width="0.2" textLength="85.4" lengthAdjust="spacingAndGlyphs">Platelets counts (x10<tspan baseline-shift="super" font-size="6.0">12</tspan>/L)</text>
<line x1="358.6" y1="30.8" x2="358.6" y2="100.69999999999999" stroke="#111" stroke-width="1.3"/>
<line x1="356.0" y1="33.4" x2="358.6" y2="33.4" stroke="#111" stroke-width="1.0"/>
<text x="352.9" y="36.0" font-size="7.5" text-anchor="end" font-weight="normal" font-style="normal" fill="#1a1a1a"  stroke="#1a1a1a" stroke-width="0.2">8</text>
<line x1="356.0" y1="50.074999999999996" x2="358.6" y2="50.074999999999996" stroke="#111" stroke-width="1.0"/>
<text x="352.9" y="52.675" font-size="7.5" text-anchor="end" font-weight="normal" font-style="normal" fill="#1a1a1a"  stroke="#1a1a1a" stroke-width="0.2">6</text>
<line x1="356.0" y1="66.75" x2="358.6" y2="66.75" stroke="#111" stroke-width="1.0"/>
<text x="352.9" y="69.35" font-size="7.5" text-anchor="end" font-weight="normal" font-style="normal" fill="#1a1a1a"  stroke="#1a1a1a" stroke-width="0.2">4</text>
<line x1="356.0" y1="83.42499999999998" x2="358.6" y2="83.42499999999998" stroke="#111" stroke-width="1.0"/>
<text x="352.9" y="86.02499999999998" font-size="7.5" text-anchor="end" font-weight="normal" font-style="normal" fill="#1a1a1a"  stroke="#1a1a1a" stroke-width="0.2">2</text>
<line x1="356.0" y1="100.1" x2="358.6" y2="100.1" stroke="#111" stroke-width="1.0"/>
<text x="352.9" y="102.69999999999999" font-size="7.5" text-anchor="end" font-weight="normal" font-style="normal" fill="#1a1a1a"  stroke="#1a1a1a" stroke-width="0.2">0</text>
<line x1="355.8" y1="100.1" x2="393.0" y2="100.1" stroke="#111" stroke-width="1.3"/>
<line x1="366.95000000000005" y1="39.5" x2="366.95000000000005" y2="45.2" stroke="#22407a" stroke-width="1.0"/>
<line x1="363.7" y1="39.5" x2="370.3" y2="39.5" stroke="#22407a" stroke-width="1.0"/>
<rect x="360.8" y="45.2" width="12.300000000000011" height="54.89999999999999" fill="#2f4a7d" stroke="#22407a" stroke-width="0.6"/>
<line x1="366.95000000000005" y1="100.1" x2="366.95000000000005" y2="103.3" stroke="#111" stroke-width="1.0"/>
<line x1="385.1" y1="42.3" x2="385.1" y2="46.8" stroke="#a0001f" stroke-width="1.0"/>
<line x1="381.6" y1="42.3" x2="388.2" y2="42.3" stroke="#a0001f" stroke-width="1.0"/>
<rect x="379.2" y="46.8" width="11.800000000000011" height="53.3" fill="#a8022b" stroke="#a0001f" stroke-width="0.6"/>
<line x1="385.1" y1="100.1" x2="385.1" y2="103.3" stroke="#111" stroke-width="1.0"/>
<path d="M366.9,37.0 L366.9,33.2 L385.0,33.2 L385.0,37.0" fill="none" stroke="#1a1a1a" stroke-width="1.0"/>
<text x="372.35" y="28.3" font-size="7.4" text-anchor="start" font-weight="normal" font-style="normal" fill="#2a2a2a" textLength="6.9" lengthAdjust="spacingAndGlyphs"  stroke="#2a2a2a" stroke-width="0.05">ns</text>
<text x="367.4" y="113.4" font-size="7.6" text-anchor="middle" font-weight="normal" font-style="italic" fill="#111" textLength="11.7" lengthAdjust="spacingAndGlyphs"  stroke="#111" stroke-width="0.2">WT</text>
<text x="385.3" y="113.4" font-size="7.6" text-anchor="middle" font-weight="normal" font-style="italic" fill="#111" textLength="11.7" lengthAdjust="spacingAndGlyphs"  stroke="#111" stroke-width="0.2">PM</text>
<text transform="translate(341.6,64.25) rotate(-90)" x="0" y="0" font-size="8.5" text-anchor="middle" fill="#1a1a1a" stroke="#1a1a1a" stroke-width="0.2" textLength="71.5" lengthAdjust="spacingAndGlyphs">RBC counts (x10<tspan baseline-shift="super" font-size="6.0">12</tspan>/L)</text>
<line x1="436.9" y1="30.5" x2="436.9" y2="100.69999999999999" stroke="#111" stroke-width="1.3"/>
<line x1="434.29999999999995" y1="33.0" x2="436.9" y2="33.0" stroke="#111" stroke-width="1.0"/>
<text x="431.0" y="35.6" font-size="7.5" text-anchor="end" font-weight="normal" font-style="normal" fill="#1a1a1a"  stroke="#1a1a1a" stroke-width="0.2">2.5</text>
<line x1="434.29999999999995" y1="46.42" x2="436.9" y2="46.42" stroke="#111" stroke-width="1.0"/>
<text x="431.0" y="49.02" font-size="7.5" text-anchor="end" font-weight="normal" font-style="normal" fill="#1a1a1a"  stroke="#1a1a1a" stroke-width="0.2">2.0</text>
<line x1="434.29999999999995" y1="59.839999999999996" x2="436.9" y2="59.839999999999996" stroke="#111" stroke-width="1.0"/>
<text x="431.0" y="62.44" font-size="7.5" text-anchor="end" font-weight="normal" font-style="normal" fill="#1a1a1a"  stroke="#1a1a1a" stroke-width="0.2">1.5</text>
<line x1="434.29999999999995" y1="73.25999999999999" x2="436.9" y2="73.25999999999999" stroke="#111" stroke-width="1.0"/>
<text x="431.0" y="75.85999999999999" font-size="7.5" text-anchor="end" font-weight="normal" font-style="normal" fill="#1a1a1a"  stroke="#1a1a1a" stroke-width="0.2">1.0</text>
<line x1="434.29999999999995" y1="86.67999999999999" x2="436.9" y2="86.67999999999999" stroke="#111" stroke-width="1.0"/>
<text x="431.0" y="89.27999999999999" font-size="7.5" text-anchor="end" font-weight="normal" font-style="normal" fill="#1a1a1a"  stroke="#1a1a1a" stroke-width="0.2">0.5</text>
<line x1="434.29999999999995" y1="100.1" x2="436.9" y2="100.1" stroke="#111" stroke-width="1.0"/>
<text x="431.0" y="102.69999999999999" font-size="7.5" text-anchor="end" font-weight="normal" font-style="normal" fill="#1a1a1a"  stroke="#1a1a1a" stroke-width="0.2">0</text>
<line x1="434.0" y1="100.1" x2="472.6" y2="100.1" stroke="#111" stroke-width="1.3"/>
<line x1="445.95" y1="52.5" x2="445.95" y2="58.7" stroke="#22407a" stroke-width="1.0"/>
<line x1="442.5" y1="52.5" x2="449.0" y2="52.5" stroke="#22407a" stroke-width="1.0"/>
<rect x="440.0" y="58.7" width="11.899999999999977" height="41.39999999999999" fill="#2f4a7d" stroke="#22407a" stroke-width="0.6"/>
<line x1="445.95" y1="100.1" x2="445.95" y2="103.3" stroke="#111" stroke-width="1.0"/>
<line x1="463.65" y1="42.3" x2="463.65" y2="60.0" stroke="#a0001f" stroke-width="1.0"/>
<line x1="460.4" y1="42.3" x2="467.0" y2="42.3" stroke="#a0001f" stroke-width="1.0"/>
<rect x="457.5" y="60.0" width="12.300000000000011" height="40.099999999999994" fill="#a8022b" stroke="#a0001f" stroke-width="0.6"/>
<line x1="463.65" y1="100.1" x2="463.65" y2="103.3" stroke="#111" stroke-width="1.0"/>
<path d="M444.9,48.4 L444.9,35.2 L463.5,35.2 L463.5,39.6" fill="none" stroke="#1a1a1a" stroke-width="1.0"/>
<text x="451.25" y="32.599999999999994" font-size="7.4" text-anchor="start" font-weight="normal" font-style="normal" fill="#2a2a2a" textLength="6.9" lengthAdjust="spacingAndGlyphs"  stroke="#2a2a2a" stroke-width="0.05">ns</text>
<text x="445.7" y="113.4" font-size="7.6" text-anchor="middle" font-weight="normal" font-style="italic" fill="#111" textLength="11.7" lengthAdjust="spacingAndGlyphs"  stroke="#111" stroke-width="0.2">WT</text>
<text x="463.6" y="113.4" font-size="7.6" text-anchor="middle" font-weight="normal" font-style="italic" fill="#111" textLength="11.7" lengthAdjust="spacingAndGlyphs"  stroke="#111" stroke-width="0.2">PM</text>
<text transform="translate(413.8,64.95) rotate(-90)" x="0" y="0" font-size="8.5" text-anchor="middle" fill="#1a1a1a" stroke="#1a1a1a" stroke-width="0.2" textLength="69.5" lengthAdjust="spacingAndGlyphs">WBC counts (x10<tspan baseline-shift="super" font-size="6.0">9</tspan>/L)</text>
<line x1="186.6" y1="160.4" x2="186.6" y2="230.9" stroke="#111" stroke-width="1.3"/>
<line x1="184.0" y1="163.4" x2="186.6" y2="163.4" stroke="#111" stroke-width="1.0"/>
<text x="180.4" y="166.0" font-size="7.5" text-anchor="end" font-weight="normal" font-style="normal" fill="#1a1a1a"  stroke="#1a1a1a" stroke-width="0.2">15</text>
<line x1="184.0" y1="185.70000000000002" x2="186.6" y2="185.70000000000002" stroke="#111" stroke-width="1.0"/>
<text x="180.4" y="188.3" font-size="7.5" text-anchor="end" font-weight="normal" font-style="normal" fill="#1a1a1a"  stroke="#1a1a1a" stroke-width="0.2">10</text>
<line x1="184.0" y1="208.0" x2="186.6" y2="208.0" stroke="#111" stroke-width="1.0"/>
<text x="180.4" y="210.6" font-size="7.5" text-anchor="end" font-weight="normal" font-style="normal" fill="#1a1a1a"  stroke="#1a1a1a" stroke-width="0.2">5</text>
<line x1="184.0" y1="230.3" x2="186.6" y2="230.3" stroke="#111" stroke-width="1.0"/>
<text x="180.4" y="232.9" font-size="7.5" text-anchor="end" font-weight="normal" font-style="normal" fill="#1a1a1a"  stroke="#1a1a1a" stroke-width="0.2">0</text>
<line x1="184.4" y1="230.3" x2="220.8" y2="230.3" stroke="#111" stroke-width="1.3"/>
<line x1="195.45" y1="175.7" x2="195.45" y2="187.3" stroke="#22407a" stroke-width="1.0"/>
<line x1="193.0" y1="175.7" x2="198.7" y2="175.7" stroke="#22407a" stroke-width="1.0"/>
<rect x="189.8" y="187.3" width="11.299999999999983" height="43.0" fill="#2f4a7d" stroke="#22407a" stroke-width="0.6"/>
<line x1="195.45" y1="230.3" x2="195.45" y2="233.5" stroke="#111" stroke-width="1.0"/>
<line x1="212.45" y1="172.7" x2="212.45" y2="184.8" stroke="#a0001f" stroke-width="1.0"/>
<line x1="209.4" y1="172.7" x2="215.0" y2="172.7" stroke="#a0001f" stroke-width="1.0"/>
<rect x="206.8" y="184.8" width="11.299999999999983" height="45.5" fill="#a8022b" stroke="#a0001f" stroke-width="0.6"/>
<line x1="212.45" y1="230.3" x2="212.45" y2="233.5" stroke="#111" stroke-width="1.0"/>
<path d="M195.1,172.2 L195.1,168.5 L212.7,168.5 L212.7,172.2" fill="none" stroke="#1a1a1a" stroke-width="1.0"/>
<text x="200.45000000000002" y="165.70000000000002" font-size="7.4" text-anchor="start" font-weight="normal" font-style="normal" fill="#2a2a2a" textLength="6.9" lengthAdjust="spacingAndGlyphs"  stroke="#2a2a2a" stroke-width="0.05">ns</text>
<text x="195.6" y="243.1" font-size="7.6" text-anchor="middle" font-weight="normal" font-style="italic" fill="#111" textLength="11.7" lengthAdjust="spacingAndGlyphs"  stroke="#111" stroke-width="0.2">WT</text>
<text x="212.0" y="243.1" font-size="7.6" text-anchor="middle" font-weight="normal" font-style="italic" fill="#111" textLength="11.7" lengthAdjust="spacingAndGlyphs"  stroke="#111" stroke-width="0.2">PM</text>
<text transform="translate(166.9,193.6) rotate(-90)" x="0" y="0" font-size="8.5" text-anchor="middle" fill="#1a1a1a" stroke="#1a1a1a" stroke-width="0.2" textLength="79.19999999999999" lengthAdjust="spacingAndGlyphs">PPF-megakaryocytes (%)</text>
<text x="49.7" y="155.0" font-size="9.0" text-anchor="start" font-weight="normal" font-style="normal" fill="#111" textLength="56.5" lengthAdjust="spacingAndGlyphs" stroke-width="0.2" stroke="#111" stroke-width="0.2"><tspan fill="#6cab3e" stroke="#6cab3e">Tubulin</tspan><tspan fill="#333" stroke="#333">/</tspan><tspan fill="#3d5894" stroke="#3d5894">DAPI</tspan></text>
<rect x="7.2" y="160.2" width="69.7" height="70.3" fill="#000" />
<rect x="79.1" y="160.2" width="69.9" height="70.3" fill="#000" />
<defs><filter id="cb" x="-20%" y="-20%" width="140%" height="140%"><feGaussianBlur stdDeviation="0.3"/></filter><filter id="cb2" x="-50%" y="-50%" width="200%" height="200%"><feGaussianBlur stdDeviation="0.7"/></filter><clipPath id="im1"><rect x="7.2" y="160.2" width="69.7" height="70.3"/></clipPath><clipPath id="im2"><rect x="79.1" y="160.2" width="69.9" height="70.3"/></clipPath><radialGradient id="body1" cx="0.45" cy="0.45" r="0.55"><stop offset="0" stop-color="#a8dc3a"/><stop offset="0.55" stop-color="#b4dc28"/><stop offset="0.85" stop-color="#d6e820"/><stop offset="1" stop-color="#a8d020"/></radialGradient><radialGradient id="body2" cx="0.5" cy="0.5" r="0.5"><stop offset="0" stop-color="#8ce050"/><stop offset="0.7" stop-color="#72d02c"/><stop offset="1" stop-color="#4fa81e"/></radialGradient><radialGradient id="nuc1" cx="0.55" cy="0.45" r="0.55"><stop offset="0" stop-color="#e0f4ff"/><stop offset="0.4" stop-color="#70b8ff"/><stop offset="1" stop-color="#3a7ad0"/></radialGradient></defs>
<g clip-path="url(#im1)"><g filter="url(#cb)" fill="none" stroke-linecap="round" stroke-linejoin="round">
<path d="M45.1,185.6 L48.5,183.8 L52.7,181.8" stroke="#8cc41e" stroke-width="0.7"/>
<path d="M46.20,185.02 L46.80,185.85" stroke="#8cc41e" stroke-width="0.45"/>
<path d="M48.80,183.66 L48.03,183.48" stroke="#8cc41e" stroke-width="0.45"/>
<path d="M51,182.5 L50.5,180.8" stroke="#8cc41e" stroke-width="0.5"/>
<path d="M50.97,182.40 L50.44,182.38" stroke="#8cc41e" stroke-width="0.45"/>
<path d="M46.6,194.6 L50,194.2 L52.7,193.9 L57,193.2 L61.7,192.4 L65,192.2 L68.5,191.6" stroke="#c8dc20" stroke-width="0.65"/>
<path d="M48.07,194.43 L48.59,194.67" stroke="#c8dc20" stroke-width="0.45"/>
<path d="M51.15,194.07 L51.42,193.54" stroke="#c8dc20" stroke-width="0.45"/>
<path d="M53.66,193.74 L52.78,192.84" stroke="#c8dc20" stroke-width="0.45"/>
<path d="M59.71,192.74 L58.69,193.51" stroke="#c8dc20" stroke-width="0.45"/>
<path d="M61.85,192.39 L62.31,191.82" stroke="#c8dc20" stroke-width="0.45"/>
<path d="M65.50,192.11 L66.06,192.62" stroke="#c8dc20" stroke-width="0.45"/>
<path d="M61.7,192.4 L62.6,190.6" stroke="#8cc41e" stroke-width="0.5"/>
<path d="M62.43,190.93 L62.84,191.81" stroke="#8cc41e" stroke-width="0.45"/>
<path d="M57,193.2 L57.6,195.5" stroke="#8cc41e" stroke-width="0.45"/>
<path d="M57.38,194.67 L56.73,195.34" stroke="#8cc41e" stroke-width="0.45"/>
<path d="M33.4,194.6 L28,194.3 L23.6,193.9 L20,195 L16,197" stroke="#8cc41e" stroke-width="0.55"/>
<path d="M33.06,194.58 L33.68,194.82" stroke="#8cc41e" stroke-width="0.45"/>
<path d="M25.01,194.03 L24.33,194.36" stroke="#8cc41e" stroke-width="0.45"/>
<path d="M21.49,194.54 L20.78,194.76" stroke="#8cc41e" stroke-width="0.45"/>
<path d="M16.82,196.59 L16.60,195.93" stroke="#8cc41e" stroke-width="0.45"/>
<path d="M25.5,186.5 m-1.5,0 a1.5,2 0 1,0 3,0 a1.5,2 0 1,0 -3,0" stroke="#8cc41e" stroke-width="0.5"/>
<path d="M27.4,188.5 L31,190" stroke="#8cc41e" stroke-width="0.5"/>
<path d="M29.47,189.36 L28.28,189.17" stroke="#8cc41e" stroke-width="0.45"/>
<path d="M23.6,193.9 L22.5,190" stroke="#8cc41e" stroke-width="0.45"/>
<path d="M22.80,191.06 L22.49,192.30" stroke="#8cc41e" stroke-width="0.45"/>
<path d="M31,197.6 L33.4,201.4 L31.9,205 L29,209 L26.6,212.7" stroke="#8cc41e" stroke-width="0.55"/>
<path d="M31.28,198.05 L30.32,198.59" stroke="#8cc41e" stroke-width="0.45"/>
<path d="M33.17,201.95 L32.64,201.98" stroke="#8cc41e" stroke-width="0.45"/>
<path d="M29.96,207.67 L30.05,206.72" stroke="#8cc41e" stroke-width="0.45"/>
<path d="M26.90,212.24 L26.49,213.21" stroke="#8cc41e" stroke-width="0.45"/>
<path d="M42,199.2 L45,201.4 L44.3,205.2 L42,207.5 L40.6,209.7 L38,211.5 L36,212.8" stroke="#c8dc20" stroke-width="0.6"/>
<path d="M43.78,200.51 L43.02,200.09" stroke="#c8dc20" stroke-width="0.45"/>
<path d="M44.41,204.59 L45.24,204.29" stroke="#c8dc20" stroke-width="0.45"/>
<path d="M42.77,206.73 L43.76,207.12" stroke="#c8dc20" stroke-width="0.45"/>
<path d="M41.09,208.92 L42.25,208.87" stroke="#c8dc20" stroke-width="0.45"/>
<path d="M39.86,210.21 L39.08,210.89" stroke="#c8dc20" stroke-width="0.45"/>
<path d="M37.95,211.53 L37.34,211.68" stroke="#c8dc20" stroke-width="0.45"/>
<path d="M45,201.4 L48,204" stroke="#8cc41e" stroke-width="0.45"/>
<path d="M45.35,201.70 L46.39,202.11" stroke="#8cc41e" stroke-width="0.45"/>
<path d="M37,199.5 L36,203 L34.5,206" stroke="#8cc41e" stroke-width="0.5"/>
<path d="M36.87,199.95 L36.88,200.77" stroke="#8cc41e" stroke-width="0.45"/>
<path d="M34.69,205.61 L35.44,206.03" stroke="#8cc41e" stroke-width="0.45"/>
<path d="M46,197 L49,198.5 L47.8,201" stroke="#c8dc20" stroke-width="0.5"/>
<path d="M47.65,197.82 L48.51,197.05" stroke="#c8dc20" stroke-width="0.45"/>
<path d="M47.96,200.66 L47.82,201.48" stroke="#c8dc20" stroke-width="0.45"/>
</g>
<g filter="url(#cb)">
<path d="M33.6,186.8 C34,184.2 36.5,183.2 39.5,183.2 C42.5,183.3 44.8,184.8 45.6,187.5 C46.2,190.5 46.2,194 44.8,196.3 C43.2,198.2 40,198.4 37.4,197.8 C34.8,197 33.6,195 33.3,192.5 C33.1,190.5 33.2,188.5 33.6,186.8 Z" fill="#9cd43c" stroke="#d2e422" stroke-width="1.1"/>
<ellipse cx="41.5" cy="193" rx="2.8" ry="3.2" fill="#b4dc44" opacity="0.8"/>
<circle cx="34.4" cy="190.7" r="0.8" fill="#3050c0"/>
<circle cx="45.9" cy="188.6" r="1.2" fill="#a8d428"/>
<circle cx="39.8" cy="200" r="1.3" fill="#d8e020"/>
<circle cx="31.8" cy="194.6" r="1.0" fill="#d0e020"/>
<circle cx="38.9" cy="188.6" r="2.9" fill="url(#nuc1)"/>
<circle cx="52.7" cy="181.8" r="1.1" fill="#9cd030"/>
<circle cx="64.7" cy="203" r="1.3" fill="#d8e020"/>
<circle cx="57.2" cy="201.4" r="0.45" fill="#8cc41e"/>
<circle cx="19" cy="206.7" r="2.4" fill="#7cb83a"/>
<circle cx="19" cy="206.7" r="1.8" fill="#3c7ad8"/>
<circle cx="32.4" cy="231.3" r="3.5" fill="none" stroke="#90e02c" stroke-width="1.7"/>
<circle cx="9.3" cy="200" r="0.6" fill="#8cc83a"/>
<circle cx="11.5" cy="203" r="0.5" fill="#8cc83a"/>
<circle cx="8.8" cy="193" r="0.5" fill="#8cc83a"/>
<circle cx="73" cy="184" r="0.5" fill="#2840c0"/>
</g></g>
<g clip-path="url(#im2)"><g filter="url(#cb)" fill="none" stroke-linecap="round" stroke-linejoin="round">
<path d="M119.6,191.5 L122.5,189.8 L125.3,188.2 L127.5,186 L129.3,184.2 L132,180.5 L135,178.5 L138.2,176.9" stroke="#6cd82a" stroke-width="0.75"/>
<path d="M120.64,190.89 L121.80,189.86" stroke="#6cd82a" stroke-width="0.5"/>
<path d="M120.04,191.24 L120.38,191.92" stroke="#6cd82a" stroke-width="0.5"/>
<path d="M123.15,189.43 L122.01,189.53" stroke="#6cd82a" stroke-width="0.5"/>
<path d="M123.24,189.38 L124.20,189.40" stroke="#6cd82a" stroke-width="0.5"/>
<path d="M126.11,187.39 L124.70,186.76" stroke="#6cd82a" stroke-width="0.5"/>
<path d="M126.82,186.68 L125.65,186.57" stroke="#6cd82a" stroke-width="0.5"/>
<path d="M128.72,184.78 L130.12,185.28" stroke="#6cd82a" stroke-width="0.5"/>
<path d="M128.90,184.60 L129.88,183.62" stroke="#6cd82a" stroke-width="0.5"/>
<path d="M130.36,182.75 L129.87,183.11" stroke="#6cd82a" stroke-width="0.5"/>
<path d="M131.01,181.85 L131.54,182.07" stroke="#6cd82a" stroke-width="0.5"/>
<path d="M132.63,180.08 L133.08,180.83" stroke="#6cd82a" stroke-width="0.5"/>
<path d="M132.16,180.39 L132.82,180.40" stroke="#6cd82a" stroke-width="0.5"/>
<path d="M135.32,178.34 L134.98,178.74" stroke="#6cd82a" stroke-width="0.5"/>
<path d="M137.80,177.10 L137.30,176.67" stroke="#6cd82a" stroke-width="0.5"/>
<path d="M131.8,181 L131.8,179.3" stroke="#6cd82a" stroke-width="0.6"/>
<path d="M131.80,180.57 L131.28,181.31" stroke="#6cd82a" stroke-width="0.5"/>
<path d="M131.80,180.79 L132.73,179.50" stroke="#6cd82a" stroke-width="0.5"/>
<path d="M121.2,192 L124,192.6 L126,192.3 L129.3,192.3" stroke="#6cd82a" stroke-width="0.6"/>
<path d="M122.50,192.28 L121.91,192.34" stroke="#6cd82a" stroke-width="0.5"/>
<path d="M121.49,192.06 L121.05,192.72" stroke="#6cd82a" stroke-width="0.5"/>
<path d="M125.66,192.35 L125.94,192.80" stroke="#6cd82a" stroke-width="0.5"/>
<path d="M125.90,192.31 L125.25,192.20" stroke="#6cd82a" stroke-width="0.5"/>
<path d="M127.79,192.30 L128.86,192.48" stroke="#6cd82a" stroke-width="0.5"/>
<path d="M129.23,192.30 L130.06,191.34" stroke="#6cd82a" stroke-width="0.5"/>
<path d="M109,189.8 L107.5,188.2 L105.8,186.6 L103.8,185.2 L101.8,184.2" stroke="#6cd82a" stroke-width="0.7"/>
<path d="M108.61,189.38 L108.15,189.89" stroke="#6cd82a" stroke-width="0.5"/>
<path d="M107.84,188.56 L106.51,188.29" stroke="#6cd82a" stroke-width="0.5"/>
<path d="M106.94,187.67 L107.17,189.05" stroke="#6cd82a" stroke-width="0.5"/>
<path d="M105.83,186.62 L106.66,185.52" stroke="#6cd82a" stroke-width="0.5"/>
<path d="M104.16,185.45 L104.12,184.71" stroke="#6cd82a" stroke-width="0.5"/>
<path d="M104.76,185.88 L104.44,186.29" stroke="#6cd82a" stroke-width="0.5"/>
<path d="M103.74,185.17 L103.60,185.94" stroke="#6cd82a" stroke-width="0.5"/>
<path d="M102.41,184.51 L103.37,184.24" stroke="#6cd82a" stroke-width="0.5"/>
<path d="M105.8,186.6 L104.2,188.4" stroke="#6cd82a" stroke-width="0.6"/>
<path d="M104.30,188.29 L105.85,188.17" stroke="#6cd82a" stroke-width="0.5"/>
<path d="M105.22,187.26 L105.35,187.99" stroke="#6cd82a" stroke-width="0.5"/>
<path d="M110.5,189.5 L108.8,187 L107.4,185" stroke="#6cd82a" stroke-width="0.6"/>
<path d="M110.17,189.01 L110.50,190.15" stroke="#6cd82a" stroke-width="0.5"/>
<path d="M108.97,187.25 L109.52,186.38" stroke="#6cd82a" stroke-width="0.5"/>
<path d="M107.89,185.69 L108.07,185.13" stroke="#6cd82a" stroke-width="0.5"/>
<path d="M107.88,185.68 L109.02,184.95" stroke="#6cd82a" stroke-width="0.5"/>
<path d="M114,189 L114.2,187 L114,185" stroke="#6cd82a" stroke-width="0.6"/>
<path d="M114.15,187.50 L113.46,187.60" stroke="#6cd82a" stroke-width="0.5"/>
<path d="M114.16,187.42 L113.47,188.62" stroke="#6cd82a" stroke-width="0.5"/>
<path d="M114.01,185.06 L113.26,185.63" stroke="#6cd82a" stroke-width="0.5"/>
<path d="M114.01,185.11 L113.90,184.43" stroke="#6cd82a" stroke-width="0.5"/>
<path d="M117,189.5 L118.5,186" stroke="#6cd82a" stroke-width="0.6"/>
<path d="M117.19,189.06 L118.06,190.27" stroke="#6cd82a" stroke-width="0.5"/>
<path d="M118.21,186.68 L119.07,187.80" stroke="#6cd82a" stroke-width="0.5"/>
<path d="M108.3,195.5 L104,194 L101,193 L97,194 L94.5,195.5 L92.9,197.1 L93.5,200 L94.5,202.8" stroke="#6cd82a" stroke-width="0.7"/>
<path d="M104.08,194.03 L103.60,193.29" stroke="#6cd82a" stroke-width="0.5"/>
<path d="M105.94,194.68 L106.29,195.06" stroke="#6cd82a" stroke-width="0.5"/>
<path d="M101.09,193.03 L100.45,192.16" stroke="#6cd82a" stroke-width="0.5"/>
<path d="M101.20,193.07 L99.86,193.66" stroke="#6cd82a" stroke-width="0.5"/>
<path d="M97.70,193.83 L97.88,194.58" stroke="#6cd82a" stroke-width="0.5"/>
<path d="M99.83,193.29 L99.90,194.44" stroke="#6cd82a" stroke-width="0.5"/>
<path d="M96.35,194.39 L95.79,194.70" stroke="#6cd82a" stroke-width="0.5"/>
<path d="M94.72,195.37 L94.12,196.16" stroke="#6cd82a" stroke-width="0.5"/>
<path d="M93.57,196.43 L94.36,195.89" stroke="#6cd82a" stroke-width="0.5"/>
<path d="M93.03,196.97 L91.95,196.96" stroke="#6cd82a" stroke-width="0.5"/>
<path d="M93.21,198.62 L94.19,198.73" stroke="#6cd82a" stroke-width="0.5"/>
<path d="M93.01,197.63 L94.39,197.67" stroke="#6cd82a" stroke-width="0.5"/>
<path d="M93.67,200.48 L92.39,200.70" stroke="#6cd82a" stroke-width="0.5"/>
<path d="M94.06,201.56 L93.56,202.51" stroke="#6cd82a" stroke-width="0.5"/>
<path d="M110,200.4 L104.2,199.6 L100,200.5 L97.7,202" stroke="#6cd82a" stroke-width="0.6"/>
<path d="M106.78,199.96 L106.91,199.35" stroke="#6cd82a" stroke-width="0.5"/>
<path d="M106.75,199.95 L106.76,200.76" stroke="#6cd82a" stroke-width="0.5"/>
<path d="M100.96,200.30 L99.84,200.24" stroke="#6cd82a" stroke-width="0.5"/>
<path d="M101.01,200.28 L101.85,199.77" stroke="#6cd82a" stroke-width="0.5"/>
<path d="M98.59,201.42 L97.53,201.38" stroke="#6cd82a" stroke-width="0.5"/>
<path d="M98.41,201.54 L97.37,201.86" stroke="#6cd82a" stroke-width="0.5"/>
<path d="M114,202.8 L112,205 L110.7,206.8 L109,209.3" stroke="#6cd82a" stroke-width="0.7"/>
<path d="M113.04,203.85 L114.23,203.40" stroke="#6cd82a" stroke-width="0.5"/>
<path d="M112.25,204.73 L112.98,204.45" stroke="#6cd82a" stroke-width="0.5"/>
<path d="M111.27,206.01 L112.61,205.51" stroke="#6cd82a" stroke-width="0.5"/>
<path d="M111.82,205.25 L112.53,205.93" stroke="#6cd82a" stroke-width="0.5"/>
<path d="M110.58,206.98 L110.61,207.56" stroke="#6cd82a" stroke-width="0.5"/>
<path d="M109.56,208.47 L109.88,207.02" stroke="#6cd82a" stroke-width="0.5"/>
<path d="M118,202 L119.6,206 L122.8,209.3 L125.3,210" stroke="#6cd82a" stroke-width="0.7"/>
<path d="M118.25,202.62 L117.99,201.42" stroke="#6cd82a" stroke-width="0.5"/>
<path d="M118.23,202.57 L119.39,201.52" stroke="#6cd82a" stroke-width="0.5"/>
<path d="M120.30,206.72 L121.20,206.45" stroke="#6cd82a" stroke-width="0.5"/>
<path d="M121.16,207.61 L122.57,207.52" stroke="#6cd82a" stroke-width="0.5"/>
<path d="M123.20,209.41 L122.23,209.86" stroke="#6cd82a" stroke-width="0.5"/>
<path d="M123.65,209.54 L123.93,210.34" stroke="#6cd82a" stroke-width="0.5"/>
<path d="M120.5,207 L120.4,210.9" stroke="#6cd82a" stroke-width="0.6"/>
<path d="M120.43,209.82 L121.53,209.95" stroke="#6cd82a" stroke-width="0.5"/>
<path d="M120.46,208.72 L121.32,208.82" stroke="#6cd82a" stroke-width="0.5"/>
<path d="M119.6,206 L121.5,204.8" stroke="#6cd82a" stroke-width="0.6"/>
<path d="M120.79,205.25 L120.22,205.21" stroke="#6cd82a" stroke-width="0.5"/>
<path d="M121.47,204.82 L121.85,203.29" stroke="#6cd82a" stroke-width="0.5"/>
</g>
<g filter="url(#cb)">
<ellipse cx="114" cy="196" rx="6.3" ry="6.6" fill="url(#body2)"/>
<circle cx="112" cy="194.8" r="2.4" fill="#6cc0d8" opacity="0.8"/>
<ellipse cx="108.2" cy="221.4" rx="2.6" ry="2.1" fill="#5cb830"/>
<circle cx="107.6" cy="221" r="0.8" fill="#3c7fe0"/>
<circle cx="109.2" cy="222" r="0.7" fill="#3c7fe0"/>
<circle cx="113.2" cy="222.4" r="1.2" fill="#2f6ff0"/>
<circle cx="112" cy="221.6" r="0.8" fill="#5cb830"/>
<circle cx="127.8" cy="221.7" r="1.0" fill="#2f6ff0"/>
<circle cx="145" cy="163.5" r="0.8" fill="#5ab0d8"/>
</g></g>
<text x="9.2" y="169.1" font-size="7.8" text-anchor="start" font-weight="normal" font-style="italic" fill="#e8e8e8" textLength="12.1" lengthAdjust="spacingAndGlyphs"  stroke="#e8e8e8" stroke-width="0.05">WT</text>
<text x="81.6" y="169.4" font-size="7.8" text-anchor="start" font-weight="normal" font-style="italic" fill="#e8e8e8" textLength="11.2" lengthAdjust="spacingAndGlyphs"  stroke="#e8e8e8" stroke-width="0.05">PM</text>
<text x="55.2" y="223.3" font-size="8.0" text-anchor="start" font-weight="normal" font-style="normal" fill="#e8e8e8" textLength="19.3" lengthAdjust="spacingAndGlyphs"  stroke="#e8e8e8" stroke-width="0.05">50μm</text>
<rect x="60.0" y="226.0" width="12.7" height="1.0" fill="#fff" />
<text x="127.2" y="222.8" font-size="8.0" text-anchor="start" font-weight="normal" font-style="normal" fill="#e8e8e8" textLength="19.6" lengthAdjust="spacingAndGlyphs"  stroke="#e8e8e8" stroke-width="0.05">50μm</text>
<rect x="131.5" y="226.2" width="13.0" height="1.0" fill="#fff" />
<line x1="272.4" y1="166.2" x2="272.4" y2="230.7" stroke="#111" stroke-width="1.3"/>
<line x1="269.79999999999995" y1="168.9" x2="272.4" y2="168.9" stroke="#111" stroke-width="1.0"/>
<text x="266.0" y="171.70000000000002" font-size="7.8" text-anchor="end" font-weight="normal" font-style="normal" fill="#1a1a1a"  stroke="#1a1a1a" stroke-width="0.2">15000</text>
<line x1="269.79999999999995" y1="189.3" x2="272.4" y2="189.3" stroke="#111" stroke-width="1.0"/>
<text x="266.0" y="192.10000000000002" font-size="7.8" text-anchor="end" font-weight="normal" font-style="normal" fill="#1a1a1a"  stroke="#1a1a1a" stroke-width="0.2">10000</text>
<line x1="269.79999999999995" y1="209.7" x2="272.4" y2="209.7" stroke="#111" stroke-width="1.0"/>
<text x="266.0" y="212.5" font-size="7.8" text-anchor="end" font-weight="normal" font-style="normal" fill="#1a1a1a"  stroke="#1a1a1a" stroke-width="0.2">5000</text>
<line x1="269.79999999999995" y1="230.1" x2="272.4" y2="230.1" stroke="#111" stroke-width="1.0"/>
<text x="266.0" y="232.9" font-size="7.8" text-anchor="end" font-weight="normal" font-style="normal" fill="#1a1a1a"  stroke="#1a1a1a" stroke-width="0.2">0</text>
<line x1="271.79999999999995" y1="230.1" x2="365.59999999999997" y2="230.1" stroke="#111" stroke-width="1.3"/>
<line x1="272.4" y1="230.1" x2="272.4" y2="232.5" stroke="#111" stroke-width="1.0"/>
<text x="272.4" y="242.7" font-size="7.8" text-anchor="middle" font-weight="normal" font-style="normal" fill="#1a1a1a"  stroke="#1a1a1a" stroke-width="0.2">0</text>
<line x1="294.9" y1="230.1" x2="294.9" y2="232.5" stroke="#111" stroke-width="1.0"/>
<text x="294.9" y="242.7" font-size="7.8" text-anchor="middle" font-weight="normal" font-style="normal" fill="#1a1a1a"  stroke="#1a1a1a" stroke-width="0.2">20</text>
<line x1="317.4" y1="230.1" x2="317.4" y2="232.5" stroke="#111" stroke-width="1.0"/>
<text x="317.4" y="242.7" font-size="7.8" text-anchor="middle" font-weight="normal" font-style="normal" fill="#1a1a1a"  stroke="#1a1a1a" stroke-width="0.2">40</text>
<line x1="339.9" y1="230.1" x2="339.9" y2="232.5" stroke="#111" stroke-width="1.0"/>
<text x="339.9" y="242.7" font-size="7.8" text-anchor="middle" font-weight="normal" font-style="normal" fill="#1a1a1a"  stroke="#1a1a1a" stroke-width="0.2">60</text>
<line x1="362.4" y1="230.1" x2="362.4" y2="232.5" stroke="#111" stroke-width="1.0"/>
<text x="362.4" y="242.7" font-size="7.8" text-anchor="middle" font-weight="normal" font-style="normal" fill="#1a1a1a"  stroke="#1a1a1a" stroke-width="0.2">80</text>
<text x="293.5" y="255.5" font-size="8.6" text-anchor="start" font-weight="normal" font-style="normal" fill="#1a1a1a" textLength="51.5" lengthAdjust="spacingAndGlyphs"  stroke="#1a1a1a" stroke-width="0.2">Time (minutes)</text>
<polyline points="273.50,213.90 281.10,212.68 288.70,210.92 296.30,222.35 303.90,222.35 311.50,222.76 319.10,197.66 326.70,195.01 334.30,195.01 341.90,224.39 349.50,224.27 357.10,224.27" fill="none" stroke="#c0143c" stroke-width="1.05"/>
<line x1="273.5" y1="212.2704" x2="273.5" y2="215.5344" stroke="#c0143c" stroke-width="0.8"/>
<line x1="272.2" y1="212.2704" x2="274.8" y2="212.2704" stroke="#c0143c" stroke-width="0.8"/>
<line x1="272.2" y1="215.5344" x2="274.8" y2="215.5344" stroke="#c0143c" stroke-width="0.8"/>
<circle cx="273.50" cy="213.90" r="1.45" fill="#c0143c"/>
<line x1="281.1" y1="211.0464" x2="281.1" y2="214.31040000000002" stroke="#c0143c" stroke-width="0.8"/>
<line x1="279.8" y1="211.0464" x2="282.40000000000003" y2="211.0464" stroke="#c0143c" stroke-width="0.8"/>
<line x1="279.8" y1="214.31040000000002" x2="282.40000000000003" y2="214.31040000000002" stroke="#c0143c" stroke-width="0.8"/>
<circle cx="281.10" cy="212.68" r="1.45" fill="#c0143c"/>
<line x1="288.7" y1="209.70000000000002" x2="288.7" y2="212.148" stroke="#c0143c" stroke-width="0.8"/>
<line x1="287.4" y1="209.70000000000002" x2="290.0" y2="209.70000000000002" stroke="#c0143c" stroke-width="0.8"/>
<line x1="287.4" y1="212.148" x2="290.0" y2="212.148" stroke="#c0143c" stroke-width="0.8"/>
<circle cx="288.70" cy="210.92" r="1.45" fill="#c0143c"/>
<line x1="296.3" y1="221.124" x2="296.3" y2="223.57199999999997" stroke="#c0143c" stroke-width="0.8"/>
<line x1="295.0" y1="221.124" x2="297.6" y2="221.124" stroke="#c0143c" stroke-width="0.8"/>
<line x1="295.0" y1="223.57199999999997" x2="297.6" y2="223.57199999999997" stroke="#c0143c" stroke-width="0.8"/>
<circle cx="296.30" cy="222.35" r="1.45" fill="#c0143c"/>
<line x1="303.9" y1="221.124" x2="303.9" y2="223.57199999999997" stroke="#c0143c" stroke-width="0.8"/>
<line x1="302.59999999999997" y1="221.124" x2="305.2" y2="221.124" stroke="#c0143c" stroke-width="0.8"/>
<line x1="302.59999999999997" y1="223.57199999999997" x2="305.2" y2="223.57199999999997" stroke="#c0143c" stroke-width="0.8"/>
<circle cx="303.90" cy="222.35" r="1.45" fill="#c0143c"/>
<line x1="311.5" y1="221.736" x2="311.5" y2="223.776" stroke="#c0143c" stroke-width="0.8"/>
<line x1="310.2" y1="221.736" x2="312.8" y2="221.736" stroke="#c0143c" stroke-width="0.8"/>
<line x1="310.2" y1="223.776" x2="312.8" y2="223.776" stroke="#c0143c" stroke-width="0.8"/>
<circle cx="311.50" cy="222.76" r="1.45" fill="#c0143c"/>
<line x1="319.1" y1="192.768" x2="319.1" y2="202.55999999999997" stroke="#c0143c" stroke-width="0.8"/>
<line x1="317.8" y1="192.768" x2="320.40000000000003" y2="192.768" stroke="#c0143c" stroke-width="0.8"/>
<line x1="317.8" y1="202.55999999999997" x2="320.40000000000003" y2="202.55999999999997" stroke="#c0143c" stroke-width="0.8"/>
<circle cx="319.10" cy="197.66" r="1.45" fill="#c0143c"/>
<line x1="326.7" y1="189.3" x2="326.7" y2="200.724" stroke="#c0143c" stroke-width="0.8"/>
<line x1="325.4" y1="189.3" x2="328.0" y2="189.3" stroke="#c0143c" stroke-width="0.8"/>
<line x1="325.4" y1="200.724" x2="328.0" y2="200.724" stroke="#c0143c" stroke-width="0.8"/>
<circle cx="326.70" cy="195.01" r="1.45" fill="#c0143c"/>
<line x1="334.3" y1="190.116" x2="334.3" y2="199.908" stroke="#c0143c" stroke-width="0.8"/>
<line x1="333.0" y1="190.116" x2="335.6" y2="190.116" stroke="#c0143c" stroke-width="0.8"/>
<line x1="333.0" y1="199.908" x2="335.6" y2="199.908" stroke="#c0143c" stroke-width="0.8"/>
<circle cx="334.30" cy="195.01" r="1.45" fill="#c0143c"/>
<line x1="341.9" y1="223.368" x2="341.9" y2="225.40800000000002" stroke="#c0143c" stroke-width="0.8"/>
<line x1="340.59999999999997" y1="223.368" x2="343.2" y2="223.368" stroke="#c0143c" stroke-width="0.8"/>
<line x1="340.59999999999997" y1="225.40800000000002" x2="343.2" y2="225.40800000000002" stroke="#c0143c" stroke-width="0.8"/>
<circle cx="341.90" cy="224.39" r="1.45" fill="#c0143c"/>
<line x1="349.5" y1="223.2456" x2="349.5" y2="225.28560000000002" stroke="#c0143c" stroke-width="0.8"/>
<line x1="348.2" y1="223.2456" x2="350.8" y2="223.2456" stroke="#c0143c" stroke-width="0.8"/>
<line x1="348.2" y1="225.28560000000002" x2="350.8" y2="225.28560000000002" stroke="#c0143c" stroke-width="0.8"/>
<circle cx="349.50" cy="224.27" r="1.45" fill="#c0143c"/>
<line x1="357.1" y1="223.2456" x2="357.1" y2="225.28560000000002" stroke="#c0143c" stroke-width="0.8"/>
<line x1="355.8" y1="223.2456" x2="358.40000000000003" y2="223.2456" stroke="#c0143c" stroke-width="0.8"/>
<line x1="355.8" y1="225.28560000000002" x2="358.40000000000003" y2="225.28560000000002" stroke="#c0143c" stroke-width="0.8"/>
<circle cx="357.10" cy="224.27" r="1.45" fill="#c0143c"/>
<polyline points="273.50,211.50 281.10,211.50 288.70,210.88 296.30,221.98 303.90,221.98 311.50,222.31 319.10,195.58 326.70,194.11 334.30,194.11 341.90,223.98 349.50,223.90 357.10,223.90" fill="none" stroke="#2b4a8a" stroke-width="1.05"/>
<line x1="273.5" y1="209.8632" x2="273.5" y2="213.12720000000002" stroke="#2b4a8a" stroke-width="0.8"/>
<line x1="272.2" y1="209.8632" x2="274.8" y2="209.8632" stroke="#2b4a8a" stroke-width="0.8"/>
<line x1="272.2" y1="213.12720000000002" x2="274.8" y2="213.12720000000002" stroke="#2b4a8a" stroke-width="0.8"/>
<circle cx="273.50" cy="211.50" r="1.45" fill="#2b4a8a"/>
<line x1="281.1" y1="209.8632" x2="281.1" y2="213.12720000000002" stroke="#2b4a8a" stroke-width="0.8"/>
<line x1="279.8" y1="209.8632" x2="282.40000000000003" y2="209.8632" stroke="#2b4a8a" stroke-width="0.8"/>
<line x1="279.8" y1="213.12720000000002" x2="282.40000000000003" y2="213.12720000000002" stroke="#2b4a8a" stroke-width="0.8"/>
<circle cx="281.10" cy="211.50" r="1.45" fill="#2b4a8a"/>
<line x1="288.7" y1="209.6592" x2="288.7" y2="212.10719999999998" stroke="#2b4a8a" stroke-width="0.8"/>
<line x1="287.4" y1="209.6592" x2="290.0" y2="209.6592" stroke="#2b4a8a" stroke-width="0.8"/>
<line x1="287.4" y1="212.10719999999998" x2="290.0" y2="212.10719999999998" stroke="#2b4a8a" stroke-width="0.8"/>
<circle cx="288.70" cy="210.88" r="1.45" fill="#2b4a8a"/>
<line x1="296.3" y1="220.7568" x2="296.3" y2="223.20479999999998" stroke="#2b4a8a" stroke-width="0.8"/>
<line x1="295.0" y1="220.7568" x2="297.6" y2="220.7568" stroke="#2b4a8a" stroke-width="0.8"/>
<line x1="295.0" y1="223.20479999999998" x2="297.6" y2="223.20479999999998" stroke="#2b4a8a" stroke-width="0.8"/>
<circle cx="296.30" cy="221.98" r="1.45" fill="#2b4a8a"/>
<line x1="303.9" y1="220.7568" x2="303.9" y2="223.20479999999998" stroke="#2b4a8a" stroke-width="0.8"/>
<line x1="302.59999999999997" y1="220.7568" x2="305.2" y2="220.7568" stroke="#2b4a8a" stroke-width="0.8"/>
<line x1="302.59999999999997" y1="223.20479999999998" x2="305.2" y2="223.20479999999998" stroke="#2b4a8a" stroke-width="0.8"/>
<circle cx="303.90" cy="221.98" r="1.45" fill="#2b4a8a"/>
<line x1="311.5" y1="221.28719999999998" x2="311.5" y2="223.3272" stroke="#2b4a8a" stroke-width="0.8"/>
<line x1="310.2" y1="221.28719999999998" x2="312.8" y2="221.28719999999998" stroke="#2b4a8a" stroke-width="0.8"/>
<line x1="310.2" y1="223.3272" x2="312.8" y2="223.3272" stroke="#2b4a8a" stroke-width="0.8"/>
<circle cx="311.50" cy="222.31" r="1.45" fill="#2b4a8a"/>
<line x1="319.1" y1="190.68720000000002" x2="319.1" y2="200.4792" stroke="#2b4a8a" stroke-width="0.8"/>
<line x1="317.8" y1="190.68720000000002" x2="320.40000000000003" y2="190.68720000000002" stroke="#2b4a8a" stroke-width="0.8"/>
<line x1="317.8" y1="200.4792" x2="320.40000000000003" y2="200.4792" stroke="#2b4a8a" stroke-width="0.8"/>
<circle cx="319.10" cy="195.58" r="1.45" fill="#2b4a8a"/>
<line x1="326.7" y1="188.4024" x2="326.7" y2="199.82639999999998" stroke="#2b4a8a" stroke-width="0.8"/>
<line x1="325.4" y1="188.4024" x2="328.0" y2="188.4024" stroke="#2b4a8a" stroke-width="0.8"/>
<line x1="325.4" y1="199.82639999999998" x2="328.0" y2="199.82639999999998" stroke="#2b4a8a" stroke-width="0.8"/>
<circle cx="326.70" cy="194.11" r="1.45" fill="#2b4a8a"/>
<line x1="334.3" y1="189.2184" x2="334.3" y2="199.01039999999998" stroke="#2b4a8a" stroke-width="0.8"/>
<line x1="333.0" y1="189.2184" x2="335.6" y2="189.2184" stroke="#2b4a8a" stroke-width="0.8"/>
<line x1="333.0" y1="199.01039999999998" x2="335.6" y2="199.01039999999998" stroke="#2b4a8a" stroke-width="0.8"/>
<circle cx="334.30" cy="194.11" r="1.45" fill="#2b4a8a"/>
<line x1="341.9" y1="222.95999999999998" x2="341.9" y2="225.0" stroke="#2b4a8a" stroke-width="0.8"/>
<line x1="340.59999999999997" y1="222.95999999999998" x2="343.2" y2="222.95999999999998" stroke="#2b4a8a" stroke-width="0.8"/>
<line x1="340.59999999999997" y1="225.0" x2="343.2" y2="225.0" stroke="#2b4a8a" stroke-width="0.8"/>
<circle cx="341.90" cy="223.98" r="1.45" fill="#2b4a8a"/>
<line x1="349.5" y1="222.87839999999997" x2="349.5" y2="224.9184" stroke="#2b4a8a" stroke-width="0.8"/>
<line x1="348.2" y1="222.87839999999997" x2="350.8" y2="222.87839999999997" stroke="#2b4a8a" stroke-width="0.8"/>
<line x1="348.2" y1="224.9184" x2="350.8" y2="224.9184" stroke="#2b4a8a" stroke-width="0.8"/>
<circle cx="349.50" cy="223.90" r="1.45" fill="#2b4a8a"/>
<line x1="357.1" y1="222.87839999999997" x2="357.1" y2="224.9184" stroke="#2b4a8a" stroke-width="0.8"/>
<line x1="355.8" y1="222.87839999999997" x2="358.40000000000003" y2="222.87839999999997" stroke="#2b4a8a" stroke-width="0.8"/>
<line x1="355.8" y1="224.9184" x2="358.40000000000003" y2="224.9184" stroke="#2b4a8a" stroke-width="0.8"/>
<circle cx="357.10" cy="223.90" r="1.45" fill="#2b4a8a"/>
<line x1="418.7" y1="166.2" x2="418.7" y2="230.7" stroke="#111" stroke-width="1.3"/>
<line x1="416.09999999999997" y1="168.9" x2="418.7" y2="168.9" stroke="#111" stroke-width="1.0"/>
<text x="412.3" y="171.70000000000002" font-size="7.8" text-anchor="end" font-weight="normal" font-style="normal" fill="#1a1a1a"  stroke="#1a1a1a" stroke-width="0.2">15000</text>
<line x1="416.09999999999997" y1="189.3" x2="418.7" y2="189.3" stroke="#111" stroke-width="1.0"/>
<text x="412.3" y="192.10000000000002" font-size="7.8" text-anchor="end" font-weight="normal" font-style="normal" fill="#1a1a1a"  stroke="#1a1a1a" stroke-width="0.2">10000</text>
<line x1="416.09999999999997" y1="209.7" x2="418.7" y2="209.7" stroke="#111" stroke-width="1.0"/>
<text x="412.3" y="212.5" font-size="7.8" text-anchor="end" font-weight="normal" font-style="normal" fill="#1a1a1a"  stroke="#1a1a1a" stroke-width="0.2">5000</text>
<line x1="416.09999999999997" y1="230.1" x2="418.7" y2="230.1" stroke="#111" stroke-width="1.0"/>
<text x="412.3" y="232.9" font-size="7.8" text-anchor="end" font-weight="normal" font-style="normal" fill="#1a1a1a"  stroke="#1a1a1a" stroke-width="0.2">0</text>
<line x1="418.09999999999997" y1="230.1" x2="511.9" y2="230.1" stroke="#111" stroke-width="1.3"/>
<line x1="418.7" y1="230.1" x2="418.7" y2="232.5" stroke="#111" stroke-width="1.0"/>
<text x="418.7" y="242.7" font-size="7.8" text-anchor="middle" font-weight="normal" font-style="normal" fill="#1a1a1a"  stroke="#1a1a1a" stroke-width="0.2">0</text>
<line x1="441.2" y1="230.1" x2="441.2" y2="232.5" stroke="#111" stroke-width="1.0"/>
<text x="441.2" y="242.7" font-size="7.8" text-anchor="middle" font-weight="normal" font-style="normal" fill="#1a1a1a"  stroke="#1a1a1a" stroke-width="0.2">20</text>
<line x1="463.7" y1="230.1" x2="463.7" y2="232.5" stroke="#111" stroke-width="1.0"/>
<text x="463.7" y="242.7" font-size="7.8" text-anchor="middle" font-weight="normal" font-style="normal" fill="#1a1a1a"  stroke="#1a1a1a" stroke-width="0.2">40</text>
<line x1="486.2" y1="230.1" x2="486.2" y2="232.5" stroke="#111" stroke-width="1.0"/>
<text x="486.2" y="242.7" font-size="7.8" text-anchor="middle" font-weight="normal" font-style="normal" fill="#1a1a1a"  stroke="#1a1a1a" stroke-width="0.2">60</text>
<line x1="508.7" y1="230.1" x2="508.7" y2="232.5" stroke="#111" stroke-width="1.0"/>
<text x="508.7" y="242.7" font-size="7.8" text-anchor="middle" font-weight="normal" font-style="normal" fill="#1a1a1a"  stroke="#1a1a1a" stroke-width="0.2">80</text>
<text x="439.2" y="255.5" font-size="8.6" text-anchor="start" font-weight="normal" font-style="normal" fill="#1a1a1a" textLength="52.0" lengthAdjust="spacingAndGlyphs"  stroke="#1a1a1a" stroke-width="0.2">Time (minutes)</text>
<polyline points="419.80,215.49 427.40,214.51 435.00,213.49 442.60,225.00 450.20,225.00 457.80,225.20 465.40,190.52 473.00,190.52 480.60,191.75 488.20,227.04 495.80,226.63 503.40,226.63" fill="none" stroke="#c0143c" stroke-width="1.05"/>
<line x1="419.8" y1="213.86159999999998" x2="419.8" y2="217.1256" stroke="#c0143c" stroke-width="0.8"/>
<line x1="418.5" y1="213.86159999999998" x2="421.1" y2="213.86159999999998" stroke="#c0143c" stroke-width="0.8"/>
<line x1="418.5" y1="217.1256" x2="421.1" y2="217.1256" stroke="#c0143c" stroke-width="0.8"/>
<circle cx="419.80" cy="215.49" r="1.45" fill="#c0143c"/>
<line x1="427.40000000000003" y1="212.4744" x2="427.40000000000003" y2="216.5544" stroke="#c0143c" stroke-width="0.8"/>
<line x1="426.1" y1="212.4744" x2="428.70000000000005" y2="212.4744" stroke="#c0143c" stroke-width="0.8"/>
<line x1="426.1" y1="216.5544" x2="428.70000000000005" y2="216.5544" stroke="#c0143c" stroke-width="0.8"/>
<circle cx="427.40" cy="214.51" r="1.45" fill="#c0143c"/>
<line x1="435.0" y1="211.4544" x2="435.0" y2="215.53439999999998" stroke="#c0143c" stroke-width="0.8"/>
<line x1="433.7" y1="211.4544" x2="436.3" y2="211.4544" stroke="#c0143c" stroke-width="0.8"/>
<line x1="433.7" y1="215.53439999999998" x2="436.3" y2="215.53439999999998" stroke="#c0143c" stroke-width="0.8"/>
<circle cx="435.00" cy="213.49" r="1.45" fill="#c0143c"/>
<line x1="442.6" y1="224.184" x2="442.6" y2="225.816" stroke="#c0143c" stroke-width="0.8"/>
<line x1="441.3" y1="224.184" x2="443.90000000000003" y2="224.184" stroke="#c0143c" stroke-width="0.8"/>
<line x1="441.3" y1="225.816" x2="443.90000000000003" y2="225.816" stroke="#c0143c" stroke-width="0.8"/>
<circle cx="442.60" cy="225.00" r="1.45" fill="#c0143c"/>
<line x1="450.2" y1="224.184" x2="450.2" y2="225.816" stroke="#c0143c" stroke-width="0.8"/>
<line x1="448.9" y1="224.184" x2="451.5" y2="224.184" stroke="#c0143c" stroke-width="0.8"/>
<line x1="448.9" y1="225.816" x2="451.5" y2="225.816" stroke="#c0143c" stroke-width="0.8"/>
<circle cx="450.20" cy="225.00" r="1.45" fill="#c0143c"/>
<line x1="457.8" y1="224.388" x2="457.8" y2="226.02" stroke="#c0143c" stroke-width="0.8"/>
<line x1="456.5" y1="224.388" x2="459.1" y2="224.388" stroke="#c0143c" stroke-width="0.8"/>
<line x1="456.5" y1="226.02" x2="459.1" y2="226.02" stroke="#c0143c" stroke-width="0.8"/>
<circle cx="457.80" cy="225.20" r="1.45" fill="#c0143c"/>
<line x1="465.4" y1="183.996" x2="465.4" y2="197.052" stroke="#c0143c" stroke-width="0.8"/>
<line x1="464.09999999999997" y1="183.996" x2="466.7" y2="183.996" stroke="#c0143c" stroke-width="0.8"/>
<line x1="464.09999999999997" y1="197.052" x2="466.7" y2="197.052" stroke="#c0143c" stroke-width="0.8"/>
<circle cx="465.40" cy="190.52" r="1.45" fill="#c0143c"/>
<line x1="473.0" y1="184.404" x2="473.0" y2="196.644" stroke="#c0143c" stroke-width="0.8"/>
<line x1="471.7" y1="184.404" x2="474.3" y2="184.404" stroke="#c0143c" stroke-width="0.8"/>
<line x1="471.7" y1="196.644" x2="474.3" y2="196.644" stroke="#c0143c" stroke-width="0.8"/>
<circle cx="473.00" cy="190.52" r="1.45" fill="#c0143c"/>
<line x1="480.6" y1="185.22" x2="480.6" y2="198.27599999999998" stroke="#c0143c" stroke-width="0.8"/>
<line x1="479.3" y1="185.22" x2="481.90000000000003" y2="185.22" stroke="#c0143c" stroke-width="0.8"/>
<line x1="479.3" y1="198.27599999999998" x2="481.90000000000003" y2="198.27599999999998" stroke="#c0143c" stroke-width="0.8"/>
<circle cx="480.60" cy="191.75" r="1.45" fill="#c0143c"/>
<line x1="488.2" y1="226.428" x2="488.2" y2="227.652" stroke="#c0143c" stroke-width="0.8"/>
<line x1="486.9" y1="226.428" x2="489.5" y2="226.428" stroke="#c0143c" stroke-width="0.8"/>
<line x1="486.9" y1="227.652" x2="489.5" y2="227.652" stroke="#c0143c" stroke-width="0.8"/>
<circle cx="488.20" cy="227.04" r="1.45" fill="#c0143c"/>
<line x1="495.8" y1="226.02" x2="495.8" y2="227.244" stroke="#c0143c" stroke-width="0.8"/>
<line x1="494.5" y1="226.02" x2="497.1" y2="226.02" stroke="#c0143c" stroke-width="0.8"/>
<line x1="494.5" y1="227.244" x2="497.1" y2="227.244" stroke="#c0143c" stroke-width="0.8"/>
<circle cx="495.80" cy="226.63" r="1.45" fill="#c0143c"/>
<line x1="503.4" y1="226.02" x2="503.4" y2="227.244" stroke="#c0143c" stroke-width="0.8"/>
<line x1="502.09999999999997" y1="226.02" x2="504.7" y2="226.02" stroke="#c0143c" stroke-width="0.8"/>
<line x1="502.09999999999997" y1="227.244" x2="504.7" y2="227.244" stroke="#c0143c" stroke-width="0.8"/>
<circle cx="503.40" cy="226.63" r="1.45" fill="#c0143c"/>
<polyline points="419.80,213.00 427.40,212.31 435.00,211.78 442.60,224.80 450.20,224.80 457.80,224.80 465.40,189.71 473.00,190.12 480.60,190.93 488.20,226.84 495.80,226.43 503.40,226.43" fill="none" stroke="#2b4a8a" stroke-width="1.05"/>
<line x1="419.8" y1="211.37279999999998" x2="419.8" y2="214.6368" stroke="#2b4a8a" stroke-width="0.8"/>
<line x1="418.5" y1="211.37279999999998" x2="421.1" y2="211.37279999999998" stroke="#2b4a8a" stroke-width="0.8"/>
<line x1="418.5" y1="214.6368" x2="421.1" y2="214.6368" stroke="#2b4a8a" stroke-width="0.8"/>
<circle cx="419.80" cy="213.00" r="1.45" fill="#2b4a8a"/>
<line x1="427.40000000000003" y1="210.2712" x2="427.40000000000003" y2="214.35119999999998" stroke="#2b4a8a" stroke-width="0.8"/>
<line x1="426.1" y1="210.2712" x2="428.70000000000005" y2="210.2712" stroke="#2b4a8a" stroke-width="0.8"/>
<line x1="426.1" y1="214.35119999999998" x2="428.70000000000005" y2="214.35119999999998" stroke="#2b4a8a" stroke-width="0.8"/>
<circle cx="427.40" cy="212.31" r="1.45" fill="#2b4a8a"/>
<line x1="435.0" y1="209.7408" x2="435.0" y2="213.8208" stroke="#2b4a8a" stroke-width="0.8"/>
<line x1="433.7" y1="209.7408" x2="436.3" y2="209.7408" stroke="#2b4a8a" stroke-width="0.8"/>
<line x1="433.7" y1="213.8208" x2="436.3" y2="213.8208" stroke="#2b4a8a" stroke-width="0.8"/>
<circle cx="435.00" cy="211.78" r="1.45" fill="#2b4a8a"/>
<line x1="442.6" y1="223.98" x2="442.6" y2="225.612" stroke="#2b4a8a" stroke-width="0.8"/>
<line x1="441.3" y1="223.98" x2="443.90000000000003" y2="223.98" stroke="#2b4a8a" stroke-width="0.8"/>
<line x1="441.3" y1="225.612" x2="443.90000000000003" y2="225.612" stroke="#2b4a8a" stroke-width="0.8"/>
<circle cx="442.60" cy="224.80" r="1.45" fill="#2b4a8a"/>
<line x1="450.2" y1="223.98" x2="450.2" y2="225.612" stroke="#2b4a8a" stroke-width="0.8"/>
<line x1="448.9" y1="223.98" x2="451.5" y2="223.98" stroke="#2b4a8a" stroke-width="0.8"/>
<line x1="448.9" y1="225.612" x2="451.5" y2="225.612" stroke="#2b4a8a" stroke-width="0.8"/>
<circle cx="450.20" cy="224.80" r="1.45" fill="#2b4a8a"/>
<line x1="457.8" y1="223.98" x2="457.8" y2="225.612" stroke="#2b4a8a" stroke-width="0.8"/>
<line x1="456.5" y1="223.98" x2="459.1" y2="223.98" stroke="#2b4a8a" stroke-width="0.8"/>
<line x1="456.5" y1="225.612" x2="459.1" y2="225.612" stroke="#2b4a8a" stroke-width="0.8"/>
<circle cx="457.80" cy="224.80" r="1.45" fill="#2b4a8a"/>
<line x1="465.4" y1="185.22" x2="465.4" y2="194.196" stroke="#2b4a8a" stroke-width="0.8"/>
<line x1="464.09999999999997" y1="185.22" x2="466.7" y2="185.22" stroke="#2b4a8a" stroke-width="0.8"/>
<line x1="464.09999999999997" y1="194.196" x2="466.7" y2="194.196" stroke="#2b4a8a" stroke-width="0.8"/>
<circle cx="465.40" cy="189.71" r="1.45" fill="#2b4a8a"/>
<line x1="473.0" y1="185.628" x2="473.0" y2="194.60399999999998" stroke="#2b4a8a" stroke-width="0.8"/>
<line x1="471.7" y1="185.628" x2="474.3" y2="185.628" stroke="#2b4a8a" stroke-width="0.8"/>
<line x1="471.7" y1="194.60399999999998" x2="474.3" y2="194.60399999999998" stroke="#2b4a8a" stroke-width="0.8"/>
<circle cx="473.00" cy="190.12" r="1.45" fill="#2b4a8a"/>
<line x1="480.6" y1="186.852" x2="480.6" y2="195.01200000000003" stroke="#2b4a8a" stroke-width="0.8"/>
<line x1="479.3" y1="186.852" x2="481.90000000000003" y2="186.852" stroke="#2b4a8a" stroke-width="0.8"/>
<line x1="479.3" y1="195.01200000000003" x2="481.90000000000003" y2="195.01200000000003" stroke="#2b4a8a" stroke-width="0.8"/>
<circle cx="480.60" cy="190.93" r="1.45" fill="#2b4a8a"/>
<line x1="488.2" y1="226.224" x2="488.2" y2="227.44799999999998" stroke="#2b4a8a" stroke-width="0.8"/>
<line x1="486.9" y1="226.224" x2="489.5" y2="226.224" stroke="#2b4a8a" stroke-width="0.8"/>
<line x1="486.9" y1="227.44799999999998" x2="489.5" y2="227.44799999999998" stroke="#2b4a8a" stroke-width="0.8"/>
<circle cx="488.20" cy="226.84" r="1.45" fill="#2b4a8a"/>
<line x1="495.8" y1="225.816" x2="495.8" y2="227.04" stroke="#2b4a8a" stroke-width="0.8"/>
<line x1="494.5" y1="225.816" x2="497.1" y2="225.816" stroke="#2b4a8a" stroke-width="0.8"/>
<line x1="494.5" y1="227.04" x2="497.1" y2="227.04" stroke="#2b4a8a" stroke-width="0.8"/>
<circle cx="495.80" cy="226.43" r="1.45" fill="#2b4a8a"/>
<line x1="503.4" y1="225.816" x2="503.4" y2="227.04" stroke="#2b4a8a" stroke-width="0.8"/>
<line x1="502.09999999999997" y1="225.816" x2="504.7" y2="225.816" stroke="#2b4a8a" stroke-width="0.8"/>
<line x1="502.09999999999997" y1="227.04" x2="504.7" y2="227.04" stroke="#2b4a8a" stroke-width="0.8"/>
<circle cx="503.40" cy="226.43" r="1.45" fill="#2b4a8a"/>
<text transform="translate(239.3,197.6) rotate(-90)" font-size="8.4" text-anchor="middle" fill="#222" stroke="#222" stroke-width="0.2" textLength="74.8" lengthAdjust="spacingAndGlyphs">pmol/min/mg.protein</text>
<text transform="translate(389.3,197.6) rotate(-90)" font-size="8.4" text-anchor="middle" fill="#222" stroke="#222" stroke-width="0.2" textLength="74.8" lengthAdjust="spacingAndGlyphs">pmol/min/mg.protein</text>
<line x1="276.9" y1="168.5" x2="283.29999999999995" y2="168.5" stroke="#2b4a8a" stroke-width="1.0"/>
<circle cx="280.09999999999997" cy="168.5" r="1.3" fill="#2b4a8a"/>
<line x1="276.9" y1="176.7" x2="283.29999999999995" y2="176.7" stroke="#b0102e" stroke-width="1.0"/>
<circle cx="280.09999999999997" cy="176.7" r="1.3" fill="#b0102e"/>
<text x="286.8" y="170.8" font-size="7.6" text-anchor="start" font-weight="normal" font-style="italic" fill="#222" textLength="11.0" lengthAdjust="spacingAndGlyphs"  stroke="#222" stroke-width="0.2">WT</text>
<text x="286.8" y="178.6" font-size="7.6" text-anchor="start" font-weight="normal" font-style="italic" fill="#222" textLength="11.0" lengthAdjust="spacingAndGlyphs"  stroke="#222" stroke-width="0.2">PM</text>
<line x1="423.9" y1="166.8" x2="429.59999999999997" y2="166.8" stroke="#2b4a8a" stroke-width="0.9"/>
<circle cx="426.75" cy="166.8" r="1.2" fill="#2b4a8a"/>
<line x1="423.9" y1="178.4" x2="429.59999999999997" y2="178.4" stroke="#b0102e" stroke-width="0.9"/>
<circle cx="426.75" cy="178.4" r="1.2" fill="#b0102e"/>
<text x="433.4" y="169.0" font-size="8.0" text-anchor="start" font-weight="normal" font-style="italic" fill="#222" textLength="13.4" lengthAdjust="spacingAndGlyphs"  stroke="#222" stroke-width="0.2">Agk</text>
<text x="447.0" y="165.9" font-size="4.8" text-anchor="start" font-weight="normal" font-style="italic" fill="#222" textLength="4.6" lengthAdjust="spacingAndGlyphs"  stroke="#222" stroke-width="0.1">fl/fl</text>
<text x="433.4" y="180.6" font-size="8.0" text-anchor="start" font-weight="normal" font-style="italic" fill="#222" textLength="13.4" lengthAdjust="spacingAndGlyphs"  stroke="#222" stroke-width="0.2">Agk</text>
<text x="447.0" y="177.5" font-size="4.8" text-anchor="start" font-weight="normal" font-style="italic" fill="#222" textLength="4.6" lengthAdjust="spacingAndGlyphs"  stroke="#222" stroke-width="0.1">-/-</text>
<rect x="0" y="0" width="520" height="1.3" fill="#000" />
<rect x="0" y="0" width="1.1" height="265" fill="#000" />
<rect x="518.7" y="0" width="1.3" height="265" fill="#000" />
<rect x="0" y="263.9" width="520" height="1.1" fill="#000" />
</svg></body></html>
